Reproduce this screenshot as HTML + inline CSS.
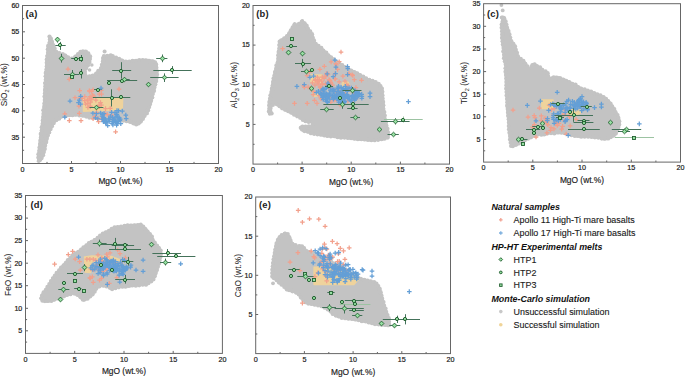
<!DOCTYPE html>
<html><head><meta charset="utf-8"><style>
html,body{margin:0;padding:0;background:#fff;}
svg{display:block;font-family:"Liberation Sans", sans-serif;}
</style></head><body>
<svg width="685" height="377" viewBox="0 0 685 377">
<path d="M49.8 36.0 L51.5 37.0 L52.0 38.5 L54.2 45.1 L56.5 51.0 L61.7 53.3 L65.4 54.0 L69.0 57.0 L72.0 57.5 L75.6 55.2 L78.3 52.4 L80.0 50.6 L86.0 50.8 L89.0 53.0 L91.3 57.0 L90.4 61.7 L88.6 66.3 L85.8 71.0 L86.7 75.6 L93.2 74.7 L96.9 71.0 L99.7 68.2 L101.5 63.6 L102.0 57.0 L103.4 55.2 L107.1 54.7 L112.3 54.2 L114.0 56.0 L117.5 57.3 L121.9 59.0 L125.4 60.8 L130.6 60.3 L136.8 59.4 L143.8 59.0 L149.0 59.4 L154.3 60.3 L156.9 62.5 L157.6 66.0 L157.8 75.0 L156.8 82.3 L155.0 89.7 L153.1 97.1 L151.3 104.5 L148.5 112.0 L144.8 117.5 L141.0 123.1 L137.3 125.4 L133.6 124.7 L129.0 122.6 L123.8 121.5 L110.0 120.0 L98.6 119.0 L89.5 118.5 L84.2 117.1 L77.5 115.8 L68.3 116.5 L63.0 117.1 L59.0 119.8 L55.0 122.4 L53.6 125.0 L50.2 131.8 L46.8 143.0 L44.5 154.4 L41.5 160.5 L38.5 162.0 L37.3 159.0 L38.9 143.0 L41.2 125.0 L43.4 102.5 L44.5 80.0 L45.8 61.8 L47.4 45.9 Z" fill="#c3c3c3" stroke="#c3c3c3" stroke-width="0.6" stroke-linejoin="round"/>
<g fill="#c3c3c3"><circle cx="49.5" cy="36.6" r="2.12"/><circle cx="50.7" cy="38.8" r="2.32"/><circle cx="52.1" cy="41.9" r="2.10"/><circle cx="53.2" cy="45.1" r="2.01"/><circle cx="54.4" cy="48.3" r="2.26"/><circle cx="56.3" cy="51.8" r="2.09"/><circle cx="59.4" cy="53.2" r="2.09"/><circle cx="62.9" cy="54.0" r="1.88"/><circle cx="65.5" cy="55.3" r="1.87"/><circle cx="68.0" cy="57.6" r="2.24"/><circle cx="71.8" cy="58.4" r="1.95"/><circle cx="75.2" cy="56.3" r="1.89"/><circle cx="78.2" cy="54.2" r="2.32"/><circle cx="80.5" cy="51.7" r="2.04"/><circle cx="82.9" cy="51.4" r="2.04"/><circle cx="85.7" cy="51.8" r="2.38"/><circle cx="88.3" cy="53.4" r="2.12"/><circle cx="90.2" cy="56.3" r="1.97"/><circle cx="90.0" cy="59.0" r="2.01"/><circle cx="89.2" cy="62.1" r="2.35"/><circle cx="88.0" cy="65.3" r="2.07"/><circle cx="86.0" cy="67.9" r="2.30"/><circle cx="85.0" cy="71.8" r="2.04"/><circle cx="85.4" cy="75.2" r="2.11"/><circle cx="89.5" cy="76.3" r="1.99"/><circle cx="92.9" cy="75.8" r="2.34"/><circle cx="96.1" cy="73.4" r="1.99"/><circle cx="98.2" cy="70.7" r="1.97"/><circle cx="100.9" cy="68.1" r="1.96"/><circle cx="101.7" cy="64.7" r="1.83"/><circle cx="103.1" cy="61.3" r="2.25"/><circle cx="103.0" cy="57.9" r="1.98"/><circle cx="103.8" cy="56.0" r="1.89"/><circle cx="107.2" cy="55.5" r="1.81"/><circle cx="110.6" cy="55.3" r="1.99"/><circle cx="112.7" cy="56.0" r="2.07"/><circle cx="116.1" cy="57.6" r="1.99"/><circle cx="119.3" cy="58.7" r="1.88"/><circle cx="122.0" cy="60.7" r="2.26"/><circle cx="125.8" cy="61.9" r="2.28"/><circle cx="129.2" cy="61.4" r="1.96"/><circle cx="132.6" cy="60.9" r="2.17"/><circle cx="136.0" cy="60.9" r="2.23"/><circle cx="139.3" cy="60.1" r="1.99"/><circle cx="142.7" cy="60.0" r="1.94"/><circle cx="145.9" cy="60.4" r="2.08"/><circle cx="149.1" cy="60.9" r="2.24"/><circle cx="152.5" cy="61.5" r="2.34"/><circle cx="155.2" cy="62.1" r="1.86"/><circle cx="156.0" cy="64.5" r="2.23"/><circle cx="156.3" cy="67.7" r="2.12"/><circle cx="157.2" cy="71.1" r="1.97"/><circle cx="156.9" cy="74.5" r="2.22"/><circle cx="156.7" cy="77.7" r="2.08"/><circle cx="156.0" cy="81.0" r="2.29"/><circle cx="155.0" cy="84.2" r="2.40"/><circle cx="154.2" cy="87.5" r="2.34"/><circle cx="154.0" cy="90.9" r="2.11"/><circle cx="152.7" cy="94.1" r="2.15"/><circle cx="152.4" cy="97.6" r="1.96"/><circle cx="150.9" cy="100.7" r="2.27"/><circle cx="150.2" cy="104.0" r="2.02"/><circle cx="149.1" cy="107.1" r="2.14"/><circle cx="147.8" cy="110.2" r="2.35"/><circle cx="147.0" cy="113.4" r="1.91"/><circle cx="144.6" cy="115.9" r="2.03"/><circle cx="142.7" cy="118.7" r="2.35"/><circle cx="140.8" cy="121.5" r="2.15"/><circle cx="138.5" cy="123.3" r="2.28"/><circle cx="136.2" cy="124.5" r="2.11"/><circle cx="133.3" cy="123.3" r="2.08"/><circle cx="130.2" cy="121.8" r="2.28"/><circle cx="126.6" cy="121.1" r="2.17"/><circle cx="123.2" cy="120.5" r="2.18"/><circle cx="119.9" cy="119.7" r="2.13"/><circle cx="116.5" cy="119.6" r="1.91"/><circle cx="113.1" cy="119.2" r="2.03"/><circle cx="109.7" cy="118.9" r="2.17"/><circle cx="106.3" cy="118.8" r="2.23"/><circle cx="102.9" cy="118.5" r="1.88"/><circle cx="99.5" cy="117.8" r="2.35"/><circle cx="96.1" cy="117.8" r="2.09"/><circle cx="92.7" cy="117.4" r="2.30"/><circle cx="89.4" cy="117.8" r="1.99"/><circle cx="86.2" cy="116.6" r="2.09"/><circle cx="82.9" cy="115.4" r="2.30"/><circle cx="79.5" cy="115.2" r="2.36"/><circle cx="75.8" cy="114.6" r="2.19"/><circle cx="72.5" cy="114.9" r="2.31"/><circle cx="69.1" cy="115.0" r="2.30"/><circle cx="65.7" cy="116.2" r="2.00"/><circle cx="61.9" cy="116.5" r="2.07"/><circle cx="59.1" cy="118.5" r="2.26"/><circle cx="56.1" cy="120.0" r="2.34"/><circle cx="53.5" cy="122.9" r="2.38"/><circle cx="52.2" cy="126.2" r="1.87"/><circle cx="50.5" cy="129.1" r="2.20"/><circle cx="49.4" cy="132.4" r="1.90"/><circle cx="48.1" cy="135.6" r="1.82"/><circle cx="46.6" cy="138.7" r="2.26"/><circle cx="46.0" cy="142.1" r="2.34"/><circle cx="45.2" cy="145.5" r="1.97"/><circle cx="44.8" cy="148.9" r="2.12"/><circle cx="43.8" cy="152.1" r="2.15"/><circle cx="43.1" cy="155.2" r="2.09"/><circle cx="41.4" cy="158.1" r="2.34"/><circle cx="39.7" cy="159.9" r="2.23"/><circle cx="39.1" cy="160.3" r="2.18"/><circle cx="38.3" cy="157.6" r="2.05"/><circle cx="38.5" cy="154.2" r="2.17"/><circle cx="39.3" cy="150.8" r="2.17"/><circle cx="39.3" cy="147.4" r="1.86"/><circle cx="40.1" cy="144.1" r="2.18"/><circle cx="40.6" cy="140.7" r="2.34"/><circle cx="41.1" cy="137.4" r="2.30"/><circle cx="40.7" cy="133.9" r="2.07"/><circle cx="41.7" cy="130.6" r="2.06"/><circle cx="41.7" cy="127.2" r="2.10"/><circle cx="42.6" cy="123.8" r="2.03"/><circle cx="42.9" cy="120.4" r="2.22"/><circle cx="43.2" cy="117.1" r="2.10"/><circle cx="43.8" cy="113.7" r="2.37"/><circle cx="43.1" cy="110.2" r="1.91"/><circle cx="44.5" cy="106.9" r="2.39"/><circle cx="44.6" cy="103.5" r="2.28"/><circle cx="44.9" cy="100.1" r="2.24"/><circle cx="44.4" cy="96.6" r="1.98"/><circle cx="45.1" cy="93.3" r="2.21"/><circle cx="45.2" cy="89.9" r="2.31"/><circle cx="45.6" cy="86.5" r="2.38"/><circle cx="44.8" cy="83.1" r="1.84"/><circle cx="45.5" cy="79.7" r="1.84"/><circle cx="45.6" cy="76.3" r="2.13"/><circle cx="46.0" cy="72.9" r="2.38"/><circle cx="46.7" cy="69.6" r="2.31"/><circle cx="47.1" cy="66.2" r="2.38"/><circle cx="46.9" cy="62.8" r="2.29"/><circle cx="46.7" cy="59.4" r="2.04"/><circle cx="46.9" cy="56.0" r="1.82"/><circle cx="48.2" cy="52.7" r="2.26"/><circle cx="47.7" cy="49.2" r="1.99"/><circle cx="48.2" cy="45.9" r="2.21"/><circle cx="49.3" cy="42.7" r="1.83"/><circle cx="49.9" cy="39.4" r="2.09"/></g>
<path d="M83.5 98.6 L122.6 98.6 L122.3 108.4 L116.5 110.0 L100.0 110.5 L83.5 111.2 Z" fill="#efd39c" stroke="#efd39c" stroke-width="1.5" stroke-linejoin="round"/>
<ellipse cx="86" cy="104" rx="3" ry="6" fill="#efd39c"/>
<g stroke="#f2a08c" stroke-width="1.25"><path d="M92.6 116.3h4.6M94.9 114.0v4.6"/><path d="M77.0 113.4h4.6M79.3 111.1v4.6"/><path d="M90.7 89.7h4.6M93.0 87.4v4.6"/><path d="M85.5 100.1h4.6M87.8 97.8v4.6"/><path d="M98.9 90.3h4.6M101.2 88.0v4.6"/><path d="M85.6 103.5h4.6M87.9 101.2v4.6"/><path d="M76.6 106.1h4.6M78.9 103.8v4.6"/><path d="M90.3 95.0h4.6M92.6 92.7v4.6"/><path d="M85.6 107.4h4.6M87.9 105.1v4.6"/><path d="M83.3 104.0h4.6M85.6 101.7v4.6"/><path d="M91.5 96.0h4.6M93.8 93.7v4.6"/><path d="M84.9 100.1h4.6M87.2 97.8v4.6"/><path d="M87.7 96.7h4.6M90.0 94.4v4.6"/><path d="M96.8 105.4h4.6M99.1 103.1v4.6"/><path d="M97.0 94.1h4.6M99.3 91.8v4.6"/><path d="M87.3 91.1h4.6M89.6 88.8v4.6"/><path d="M93.6 100.1h4.6M95.9 97.8v4.6"/><path d="M98.2 102.5h4.6M100.5 100.2v4.6"/><path d="M82.4 100.7h4.6M84.7 98.4v4.6"/><path d="M97.1 106.8h4.6M99.4 104.5v4.6"/><path d="M87.9 106.0h4.6M90.2 103.7v4.6"/><path d="M88.3 102.0h4.6M90.6 99.7v4.6"/><path d="M87.0 90.9h4.6M89.3 88.6v4.6"/><path d="M87.6 98.2h4.6M89.9 95.9v4.6"/><path d="M99.2 94.1h4.6M101.5 91.8v4.6"/><path d="M89.5 99.2h4.6M91.8 96.9v4.6"/><path d="M72.7 97.7h4.6M75.0 95.4v4.6"/><path d="M99.1 105.0h4.6M101.4 102.7v4.6"/><path d="M77.7 98.2h4.6M80.0 95.9v4.6"/><path d="M79.9 98.3h4.6M82.2 96.0v4.6"/><path d="M89.2 91.4h4.6M91.5 89.1v4.6"/><path d="M77.4 90.5h4.6M79.7 88.2v4.6"/><path d="M82.5 96.6h4.6M84.8 94.3v4.6"/><path d="M88.0 106.8h4.6M90.3 104.5v4.6"/><path d="M95.7 118.7h4.6M98.0 116.4v4.6"/><path d="M95.1 106.8h4.6M97.4 104.5v4.6"/><path d="M99.4 118.6h4.6M101.7 116.3v4.6"/><path d="M103.2 108.6h4.6M105.5 106.3v4.6"/><path d="M102.7 113.5h4.6M105.0 111.2v4.6"/><path d="M104.9 114.5h4.6M107.2 112.2v4.6"/><path d="M107.9 108.4h4.6M110.2 106.1v4.6"/><path d="M109.5 115.0h4.6M111.8 112.7v4.6"/><path d="M90.8 118.8h4.6M93.1 116.5v4.6"/><path d="M94.2 112.6h4.6M96.5 110.3v4.6"/></g>
<g stroke="#649fd6" stroke-width="1.25"><path d="M95.6 118.8h4.6M97.9 116.5v4.6"/><path d="M102.7 121.0h4.6M105.0 118.7v4.6"/><path d="M115.0 123.7h4.6M117.3 121.4v4.6"/><path d="M114.7 110.6h4.6M117.0 108.3v4.6"/><path d="M106.9 121.7h4.6M109.2 119.4v4.6"/><path d="M115.5 117.0h4.6M117.8 114.7v4.6"/><path d="M117.9 119.0h4.6M120.2 116.7v4.6"/><path d="M113.9 122.2h4.6M116.2 119.9v4.6"/><path d="M101.7 113.6h4.6M104.0 111.3v4.6"/><path d="M107.4 119.4h4.6M109.7 117.1v4.6"/><path d="M117.6 120.3h4.6M119.9 118.0v4.6"/><path d="M110.0 121.3h4.6M112.3 119.0v4.6"/><path d="M118.5 123.6h4.6M120.8 121.3v4.6"/><path d="M101.1 121.6h4.6M103.4 119.3v4.6"/><path d="M113.6 116.9h4.6M115.9 114.6v4.6"/><path d="M116.0 121.5h4.6M118.3 119.2v4.6"/><path d="M116.3 110.7h4.6M118.6 108.4v4.6"/><path d="M114.8 121.7h4.6M117.1 119.4v4.6"/><path d="M111.2 119.2h4.6M113.5 116.9v4.6"/><path d="M103.8 122.7h4.6M106.1 120.4v4.6"/><path d="M103.3 122.9h4.6M105.6 120.6v4.6"/><path d="M110.0 123.3h4.6M112.3 121.0v4.6"/><path d="M100.9 117.8h4.6M103.2 115.5v4.6"/><path d="M114.6 114.4h4.6M116.9 112.1v4.6"/><path d="M102.6 119.1h4.6M104.9 116.8v4.6"/><path d="M113.0 122.0h4.6M115.3 119.7v4.6"/><path d="M116.9 117.6h4.6M119.2 115.3v4.6"/><path d="M114.3 125.1h4.6M116.6 122.8v4.6"/><path d="M110.3 117.4h4.6M112.6 115.1v4.6"/><path d="M114.2 114.8h4.6M116.5 112.5v4.6"/><path d="M112.7 112.6h4.6M115.0 110.3v4.6"/><path d="M116.6 119.0h4.6M118.9 116.7v4.6"/><path d="M102.5 121.5h4.6M104.8 119.2v4.6"/><path d="M123.5 115.0h4.6M125.8 112.7v4.6"/><path d="M120.0 111.1h4.6M122.3 108.8v4.6"/><path d="M123.9 118.6h4.6M126.2 116.3v4.6"/><path d="M108.1 116.2h4.6M110.4 113.9v4.6"/><path d="M102.1 120.7h4.6M104.4 118.4v4.6"/><path d="M110.6 124.9h4.6M112.9 122.6v4.6"/><path d="M106.3 118.9h4.6M108.6 116.6v4.6"/><path d="M111.7 120.8h4.6M114.0 118.5v4.6"/><path d="M103.8 122.4h4.6M106.1 120.1v4.6"/><path d="M105.4 125.5h4.6M107.7 123.2v4.6"/><path d="M111.9 119.4h4.6M114.2 117.1v4.6"/><path d="M111.0 121.6h4.6M113.3 119.3v4.6"/><path d="M99.8 116.0h4.6M102.1 113.7v4.6"/><path d="M103.2 120.6h4.6M105.5 118.3v4.6"/><path d="M100.3 119.6h4.6M102.6 117.3v4.6"/><path d="M101.6 117.5h4.6M103.9 115.2v4.6"/><path d="M109.3 112.3h4.6M111.6 110.0v4.6"/><path d="M101.2 119.2h4.6M103.5 116.9v4.6"/><path d="M100.2 114.4h4.6M102.5 112.1v4.6"/><path d="M98.3 113.0h4.6M100.6 110.7v4.6"/><path d="M101.8 118.9h4.6M104.1 116.6v4.6"/><path d="M94.1 113.7h4.6M96.4 111.4v4.6"/><path d="M90.6 113.2h4.6M92.9 110.9v4.6"/><path d="M93.1 117.8h4.6M95.4 115.5v4.6"/><path d="M76.2 102.7h4.6M78.5 100.4v4.6"/><path d="M78.4 96.3h4.6M80.7 94.0v4.6"/><path d="M77.0 100.2h4.6M79.3 97.9v4.6"/><path d="M78.2 104.1h4.6M80.5 101.8v4.6"/></g>
<line x1="57.5" y1="37.5" x2="57.5" y2="42.5" stroke="#44725a" stroke-width="1"/>
<line x1="55.3" y1="45.5" x2="65.7" y2="45.5" stroke="#44725a" stroke-width="1"/>
<line x1="60.5" y1="41.9" x2="60.5" y2="49.9" stroke="#44725a" stroke-width="1"/>
<line x1="61.5" y1="53.8" x2="61.5" y2="62.6" stroke="#44725a" stroke-width="1"/>
<line x1="71.2" y1="58.5" x2="79.0" y2="58.5" stroke="#44725a" stroke-width="1"/>
<line x1="81.5" y1="55.0" x2="81.5" y2="62.0" stroke="#44725a" stroke-width="1"/>
<line x1="64.0" y1="74.5" x2="79.2" y2="74.5" stroke="#44725a" stroke-width="1"/>
<line x1="72.5" y1="70.0" x2="72.5" y2="79.0" stroke="#44725a" stroke-width="1"/>
<line x1="81.5" y1="69.0" x2="81.5" y2="78.5" stroke="#44725a" stroke-width="1"/>
<line x1="112.2" y1="70.5" x2="131.2" y2="70.5" stroke="#44725a" stroke-width="1"/>
<line x1="121.5" y1="62.2" x2="121.5" y2="78.6" stroke="#44725a" stroke-width="1"/>
<line x1="107.0" y1="80.5" x2="137.2" y2="80.5" stroke="#44725a" stroke-width="1"/>
<line x1="121.7" y1="79.5" x2="129.7" y2="79.5" stroke="#44725a" stroke-width="1"/>
<line x1="156.2" y1="58.5" x2="167.4" y2="58.5" stroke="#44725a" stroke-width="1"/>
<line x1="162.5" y1="54.5" x2="162.5" y2="62.2" stroke="#44725a" stroke-width="1"/>
<line x1="153.3" y1="70.5" x2="191.7" y2="70.5" stroke="#44725a" stroke-width="1"/>
<line x1="172.5" y1="66.1" x2="172.5" y2="74.0" stroke="#44725a" stroke-width="1"/>
<line x1="150.2" y1="77.5" x2="178.6" y2="77.5" stroke="#44725a" stroke-width="1"/>
<line x1="164.5" y1="73.4" x2="164.5" y2="82.0" stroke="#44725a" stroke-width="1"/>
<line x1="94.1" y1="89.5" x2="102.1" y2="89.5" stroke="#44725a" stroke-width="1"/>
<line x1="92.8" y1="97.5" x2="125.0" y2="97.5" stroke="#44725a" stroke-width="1"/>
<line x1="111.5" y1="89.3" x2="111.5" y2="106.5" stroke="#44725a" stroke-width="1"/>
<line x1="89.5" y1="107.5" x2="103.4" y2="107.5" stroke="#44725a" stroke-width="1"/>
<line x1="115.7" y1="97.5" x2="130.3" y2="97.5" stroke="#44725a" stroke-width="1"/>
<path d="M57.5 37.1L59.9 39.5L57.5 41.9L55.1 39.5Z" fill="#96e0a2" stroke="#225f30" stroke-width="0.9"/>
<circle cx="60.0" cy="45.0" r="1.6" fill="#96e0a2" stroke="#225f30" stroke-width="1.0"/>
<path d="M61.5 56.1L63.9 58.5L61.5 60.9L59.1 58.5Z" fill="#96e0a2" stroke="#225f30" stroke-width="0.9"/>
<circle cx="76.0" cy="59.0" r="1.6" fill="#96e0a2" stroke="#225f30" stroke-width="1.0"/>
<rect x="79.5" y="57.5" width="3.0" height="3.0" fill="#96e0a2" stroke="#225f30" stroke-width="0.9"/>
<path d="M72.5 72.2L74.8 74.5L72.5 76.8L70.2 74.5Z" fill="#96e0a2" stroke="#225f30" stroke-width="0.9"/>
<rect x="70.5" y="75.5" width="3.0" height="3.0" fill="#96e0a2" stroke="#225f30" stroke-width="0.9"/>
<circle cx="81.0" cy="73.0" r="1.6" fill="#96e0a2" stroke="#225f30" stroke-width="1.0"/>
<circle cx="121.0" cy="71.0" r="1.6" fill="#96e0a2" stroke="#225f30" stroke-width="1.0"/>
<circle cx="122.0" cy="81.0" r="1.6" fill="#96e0a2" stroke="#225f30" stroke-width="1.0"/>
<path d="M124.5 77.2L126.8 79.5L124.5 81.8L122.2 79.5Z" fill="#96e0a2" stroke="#225f30" stroke-width="0.9"/>
<circle cx="109.0" cy="83.0" r="1.6" fill="#96e0a2" stroke="#225f30" stroke-width="1.0"/>
<path d="M148.5 82.2L150.8 84.5L148.5 86.8L146.2 84.5Z" fill="#96e0a2" stroke="#225f30" stroke-width="0.9"/>
<path d="M162.5 56.1L164.8 58.5L162.5 60.9L160.2 58.5Z" fill="#96e0a2" stroke="#225f30" stroke-width="0.9"/>
<circle cx="172.0" cy="70.0" r="1.6" fill="#96e0a2" stroke="#225f30" stroke-width="1.0"/>
<path d="M164.5 75.2L166.8 77.5L164.5 79.8L162.2 77.5Z" fill="#96e0a2" stroke="#225f30" stroke-width="0.9"/>
<circle cx="98.0" cy="90.0" r="1.6" fill="#96e0a2" stroke="#225f30" stroke-width="1.0"/>
<circle cx="112.0" cy="98.0" r="1.6" fill="#96e0a2" stroke="#225f30" stroke-width="1.0"/>
<path d="M96.5 105.2L98.8 107.5L96.5 109.8L94.2 107.5Z" fill="#96e0a2" stroke="#225f30" stroke-width="0.9"/>
<circle cx="121.0" cy="97.0" r="1.6" fill="#96e0a2" stroke="#225f30" stroke-width="1.0"/>
<path d="M302.8 20.2 L305.6 22.4 L307.5 25.2 L308.5 27.5 L310.0 29.7 L312.9 34.0 L314.3 38.3 L315.8 42.6 L320.1 46.1 L322.9 48.3 L325.8 51.2 L328.7 54.0 L332.2 56.9 L335.8 59.7 L340.1 62.6 L344.4 65.5 L348.7 68.3 L356.4 71.6 L362.0 75.0 L367.0 77.9 L375.5 81.1 L380.4 84.0 L383.0 88.0 L384.0 100.0 L384.5 107.5 L386.1 120.2 L388.2 128.7 L389.3 135.0 L388.2 138.5 L381.8 140.4 L371.2 141.0 L360.6 140.4 L350.0 139.4 L345.0 138.8 L330.0 137.0 L325.5 136.8 L310.7 134.0 L302.3 131.2 L299.5 128.4 L299.8 126.6 L302.2 125.6 L309.3 125.4 L313.5 124.3 L311.7 122.9 L308.2 122.9 L304.6 122.3 L302.2 120.8 L299.8 118.6 L297.7 117.6 L292.1 114.5 L282.8 109.9 L277.3 106.2 L274.5 104.3 L271.7 107.1 L271.7 112.7 L269.8 114.5 L268.0 111.7 L268.4 103.4 L269.8 94.1 L272.0 82.0 L274.0 72.0 L276.8 61.4 L278.3 46.5 L278.8 40.5 L281.9 38.6 L284.5 37.0 L286.5 35.0 L288.3 32.3 L289.9 29.8 L292.5 25.8 L293.8 23.3 L294.5 22.4 L296.3 24.3 L301.0 21.5 Z" fill="#c3c3c3" stroke="#c3c3c3" stroke-width="0.6" stroke-linejoin="round"/>
<g fill="#c3c3c3"><circle cx="302.3" cy="20.9" r="1.91"/><circle cx="304.7" cy="23.3" r="1.98"/><circle cx="306.4" cy="25.8" r="2.37"/><circle cx="307.8" cy="28.9" r="2.29"/><circle cx="310.2" cy="31.4" r="2.18"/><circle cx="312.0" cy="34.2" r="2.17"/><circle cx="312.8" cy="37.3" r="1.85"/><circle cx="313.8" cy="40.6" r="2.29"/><circle cx="315.8" cy="43.9" r="2.03"/><circle cx="318.5" cy="45.9" r="2.15"/><circle cx="321.3" cy="47.9" r="2.12"/><circle cx="323.3" cy="50.6" r="2.12"/><circle cx="326.0" cy="52.8" r="2.40"/><circle cx="328.2" cy="55.5" r="2.37"/><circle cx="330.9" cy="57.6" r="2.29"/><circle cx="333.8" cy="59.5" r="2.36"/><circle cx="336.5" cy="61.7" r="2.32"/><circle cx="339.4" cy="63.4" r="1.97"/><circle cx="342.3" cy="65.2" r="2.09"/><circle cx="344.9" cy="67.5" r="2.38"/><circle cx="348.1" cy="68.8" r="2.22"/><circle cx="351.3" cy="70.3" r="1.88"/><circle cx="354.2" cy="72.1" r="2.22"/><circle cx="357.1" cy="73.6" r="2.38"/><circle cx="360.2" cy="75.0" r="1.95"/><circle cx="363.1" cy="76.9" r="2.31"/><circle cx="366.1" cy="78.4" r="2.10"/><circle cx="369.4" cy="79.8" r="1.96"/><circle cx="372.6" cy="80.7" r="1.95"/><circle cx="375.6" cy="82.0" r="2.09"/><circle cx="378.4" cy="84.1" r="2.37"/><circle cx="380.5" cy="85.9" r="2.00"/><circle cx="382.1" cy="88.4" r="1.85"/><circle cx="382.3" cy="91.8" r="2.16"/><circle cx="382.6" cy="95.2" r="1.94"/><circle cx="382.5" cy="98.6" r="2.14"/><circle cx="383.1" cy="101.9" r="2.13"/><circle cx="383.1" cy="105.3" r="2.35"/><circle cx="383.4" cy="108.8" r="2.01"/><circle cx="384.3" cy="112.1" r="2.11"/><circle cx="384.8" cy="115.5" r="2.08"/><circle cx="384.5" cy="119.0" r="2.30"/><circle cx="385.8" cy="122.3" r="2.19"/><circle cx="386.3" cy="125.7" r="2.17"/><circle cx="387.6" cy="128.8" r="1.96"/><circle cx="388.1" cy="132.2" r="1.98"/><circle cx="388.2" cy="135.1" r="1.90"/><circle cx="387.8" cy="137.6" r="2.05"/><circle cx="384.5" cy="138.4" r="2.27"/><circle cx="381.5" cy="138.9" r="2.28"/><circle cx="378.1" cy="140.0" r="1.91"/><circle cx="374.7" cy="140.4" r="1.85"/><circle cx="371.3" cy="140.0" r="2.35"/><circle cx="368.0" cy="139.8" r="2.27"/><circle cx="364.6" cy="139.3" r="2.29"/><circle cx="361.3" cy="138.9" r="2.36"/><circle cx="357.9" cy="139.1" r="2.17"/><circle cx="354.5" cy="138.4" r="2.32"/><circle cx="351.1" cy="138.2" r="2.01"/><circle cx="347.7" cy="138.2" r="1.83"/><circle cx="344.4" cy="137.6" r="2.07"/><circle cx="341.0" cy="137.5" r="2.22"/><circle cx="337.6" cy="136.9" r="2.37"/><circle cx="334.3" cy="135.9" r="2.39"/><circle cx="330.8" cy="136.5" r="1.99"/><circle cx="327.4" cy="136.2" r="1.92"/><circle cx="324.2" cy="135.4" r="2.02"/><circle cx="320.9" cy="134.5" r="2.18"/><circle cx="317.5" cy="134.5" r="1.90"/><circle cx="314.1" cy="134.1" r="1.94"/><circle cx="310.8" cy="133.5" r="1.86"/><circle cx="307.8" cy="131.7" r="2.05"/><circle cx="304.4" cy="131.1" r="2.15"/><circle cx="302.2" cy="129.3" r="2.39"/><circle cx="300.6" cy="127.7" r="1.90"/><circle cx="302.5" cy="126.8" r="2.21"/><circle cx="305.5" cy="126.7" r="2.17"/><circle cx="308.8" cy="126.1" r="1.94"/><circle cx="312.4" cy="125.5" r="1.96"/><circle cx="312.6" cy="122.2" r="2.27"/><circle cx="308.6" cy="122.0" r="1.89"/><circle cx="305.4" cy="121.5" r="1.82"/><circle cx="303.0" cy="119.7" r="2.33"/><circle cx="300.1" cy="117.9" r="1.92"/><circle cx="297.0" cy="116.6" r="1.81"/><circle cx="294.2" cy="114.6" r="2.23"/><circle cx="291.3" cy="112.7" r="2.13"/><circle cx="288.2" cy="111.3" r="2.03"/><circle cx="285.1" cy="109.9" r="1.84"/><circle cx="282.1" cy="108.4" r="1.85"/><circle cx="279.6" cy="106.1" r="2.25"/><circle cx="276.8" cy="104.2" r="2.14"/><circle cx="272.9" cy="104.9" r="2.08"/><circle cx="270.3" cy="108.1" r="2.35"/><circle cx="270.1" cy="111.5" r="2.34"/><circle cx="269.7" cy="113.8" r="1.89"/><circle cx="268.9" cy="111.5" r="2.10"/><circle cx="269.5" cy="108.7" r="2.27"/><circle cx="269.3" cy="105.3" r="2.19"/><circle cx="269.6" cy="102.0" r="2.36"/><circle cx="270.3" cy="98.7" r="2.40"/><circle cx="270.4" cy="95.3" r="2.04"/><circle cx="271.3" cy="92.0" r="1.93"/><circle cx="272.2" cy="88.7" r="2.39"/><circle cx="272.8" cy="85.3" r="2.19"/><circle cx="273.1" cy="82.0" r="2.16"/><circle cx="273.7" cy="78.6" r="2.27"/><circle cx="274.4" cy="75.3" r="1.98"/><circle cx="274.7" cy="71.9" r="1.84"/><circle cx="276.3" cy="68.8" r="2.22"/><circle cx="276.4" cy="65.4" r="2.07"/><circle cx="277.7" cy="62.2" r="2.06"/><circle cx="278.4" cy="58.7" r="2.25"/><circle cx="278.3" cy="55.2" r="2.17"/><circle cx="278.9" cy="51.9" r="2.38"/><circle cx="279.2" cy="48.5" r="1.97"/><circle cx="279.3" cy="45.1" r="2.16"/><circle cx="279.6" cy="41.7" r="2.08"/><circle cx="281.5" cy="40.5" r="2.30"/><circle cx="284.4" cy="38.7" r="2.38"/><circle cx="287.0" cy="36.1" r="2.07"/><circle cx="289.3" cy="33.3" r="2.12"/><circle cx="290.9" cy="30.3" r="2.07"/><circle cx="292.6" cy="27.3" r="1.99"/><circle cx="294.6" cy="24.4" r="1.99"/><circle cx="294.8" cy="24.4" r="2.26"/><circle cx="298.9" cy="23.9" r="2.07"/><circle cx="301.6" cy="21.7" r="1.94"/></g>
<path d="M311.0 75.0 L322.0 75.0 L322.0 82.5 L311.0 82.5 Z" fill="#efd39c" stroke="#efd39c" stroke-width="1.5" stroke-linejoin="round"/>
<ellipse cx="345.5" cy="84" rx="4" ry="3" fill="#efd39c"/>
<ellipse cx="315.5" cy="94" rx="3.5" ry="3" fill="#efd39c"/>
<g stroke="#f2a08c" stroke-width="1.25"><path d="M312.2 100.3h4.6M314.5 98.0v4.6"/><path d="M326.6 87.1h4.6M328.9 84.8v4.6"/><path d="M305.8 87.0h4.6M308.1 84.7v4.6"/><path d="M327.3 80.4h4.6M329.6 78.1v4.6"/><path d="M319.8 84.1h4.6M322.1 81.8v4.6"/><path d="M325.7 74.0h4.6M328.0 71.7v4.6"/><path d="M334.0 64.8h4.6M336.3 62.5v4.6"/><path d="M344.4 84.5h4.6M346.7 82.2v4.6"/><path d="M328.1 87.2h4.6M330.4 84.9v4.6"/><path d="M328.8 61.9h4.6M331.1 59.6v4.6"/><path d="M301.5 85.9h4.6M303.8 83.6v4.6"/><path d="M315.0 81.2h4.6M317.3 78.9v4.6"/><path d="M304.8 75.5h4.6M307.1 73.2v4.6"/><path d="M327.6 97.1h4.6M329.9 94.8v4.6"/><path d="M342.9 93.7h4.6M345.2 91.4v4.6"/><path d="M324.1 73.5h4.6M326.4 71.2v4.6"/><path d="M354.4 97.7h4.6M356.7 95.4v4.6"/><path d="M333.5 63.6h4.6M335.8 61.3v4.6"/><path d="M320.3 84.3h4.6M322.6 82.0v4.6"/><path d="M328.0 88.2h4.6M330.3 85.9v4.6"/><path d="M349.8 74.7h4.6M352.1 72.4v4.6"/><path d="M315.5 82.1h4.6M317.8 79.8v4.6"/><path d="M328.5 82.5h4.6M330.8 80.2v4.6"/><path d="M346.9 89.1h4.6M349.2 86.8v4.6"/><path d="M328.0 81.0h4.6M330.3 78.7v4.6"/><path d="M326.6 82.2h4.6M328.9 79.9v4.6"/><path d="M352.0 79.7h4.6M354.3 77.4v4.6"/><path d="M332.6 73.8h4.6M334.9 71.5v4.6"/><path d="M353.6 87.6h4.6M355.9 85.3v4.6"/><path d="M324.2 74.9h4.6M326.5 72.6v4.6"/><path d="M337.8 104.9h4.6M340.1 102.6v4.6"/><path d="M318.6 98.8h4.6M320.9 96.5v4.6"/><path d="M346.7 73.5h4.6M349.0 71.2v4.6"/><path d="M350.9 99.2h4.6M353.2 96.9v4.6"/><path d="M359.2 80.3h4.6M361.5 78.0v4.6"/><path d="M326.7 79.5h4.6M329.0 77.2v4.6"/><path d="M351.7 93.9h4.6M354.0 91.6v4.6"/><path d="M352.5 98.7h4.6M354.8 96.4v4.6"/><path d="M332.6 95.9h4.6M334.9 93.6v4.6"/><path d="M333.8 100.0h4.6M336.1 97.7v4.6"/><path d="M323.4 76.2h4.6M325.7 73.9v4.6"/><path d="M312.6 85.1h4.6M314.9 82.8v4.6"/><path d="M326.8 85.1h4.6M329.1 82.8v4.6"/><path d="M350.4 75.5h4.6M352.7 73.2v4.6"/><path d="M339.9 98.4h4.6M342.2 96.1v4.6"/><path d="M328.6 102.2h4.6M330.9 99.9v4.6"/><path d="M316.8 95.7h4.6M319.1 93.4v4.6"/><path d="M302.2 87.3h4.6M304.5 85.0v4.6"/><path d="M315.8 83.8h4.6M318.1 81.5v4.6"/><path d="M332.9 78.9h4.6M335.2 76.6v4.6"/><path d="M335.3 92.6h4.6M337.6 90.3v4.6"/><path d="M310.1 82.8h4.6M312.4 80.5v4.6"/><path d="M330.3 85.1h4.6M332.6 82.8v4.6"/><path d="M324.2 84.9h4.6M326.5 82.6v4.6"/><path d="M332.8 78.9h4.6M335.1 76.6v4.6"/><path d="M320.0 77.1h4.6M322.3 74.8v4.6"/><path d="M335.3 69.4h4.6M337.6 67.1v4.6"/><path d="M319.8 89.6h4.6M322.1 87.3v4.6"/><path d="M342.2 96.7h4.6M344.5 94.4v4.6"/><path d="M331.8 100.3h4.6M334.1 98.0v4.6"/><path d="M342.7 81.2h4.6M345.0 78.9v4.6"/><path d="M317.6 69.3h4.6M319.9 67.0v4.6"/><path d="M345.7 85.5h4.6M348.0 83.2v4.6"/><path d="M345.6 101.0h4.6M347.9 98.7v4.6"/><path d="M322.0 66.3h4.6M324.3 64.0v4.6"/><path d="M328.7 83.8h4.6M331.0 81.5v4.6"/><path d="M343.9 89.0h4.6M346.2 86.7v4.6"/><path d="M336.8 81.8h4.6M339.1 79.5v4.6"/><path d="M308.4 88.4h4.6M310.7 86.1v4.6"/><path d="M336.9 61.7h4.6M339.2 59.4v4.6"/><path d="M340.6 76.2h4.6M342.9 73.9v4.6"/><path d="M331.8 89.9h4.6M334.1 87.6v4.6"/><path d="M337.4 91.6h4.6M339.7 89.3v4.6"/><path d="M336.7 94.7h4.6M339.0 92.4v4.6"/><path d="M310.9 94.5h4.6M313.2 92.2v4.6"/><path d="M315.0 77.2h4.6M317.3 74.9v4.6"/><path d="M323.3 83.5h4.6M325.6 81.2v4.6"/><path d="M309.9 70.0h4.6M312.2 67.7v4.6"/><path d="M307.1 72.2h4.6M309.4 69.9v4.6"/><path d="M325.0 85.9h4.6M327.3 83.6v4.6"/><path d="M316.9 79.5h4.6M319.2 77.2v4.6"/><path d="M318.2 87.5h4.6M320.5 85.2v4.6"/><path d="M319.3 81.1h4.6M321.6 78.8v4.6"/><path d="M311.5 91.7h4.6M313.8 89.4v4.6"/><path d="M317.7 86.9h4.6M320.0 84.6v4.6"/><path d="M321.8 78.4h4.6M324.1 76.1v4.6"/><path d="M313.1 80.4h4.6M315.4 78.1v4.6"/><path d="M317.0 80.4h4.6M319.3 78.1v4.6"/><path d="M312.9 79.5h4.6M315.2 77.2v4.6"/></g>
<g stroke="#649fd6" stroke-width="1.25"><path d="M323.1 96.5h4.6M325.4 94.2v4.6"/><path d="M324.7 86.8h4.6M327.0 84.5v4.6"/><path d="M341.2 98.0h4.6M343.5 95.7v4.6"/><path d="M330.1 96.1h4.6M332.4 93.8v4.6"/><path d="M324.4 94.2h4.6M326.7 91.9v4.6"/><path d="M343.2 89.5h4.6M345.5 87.2v4.6"/><path d="M341.5 102.4h4.6M343.8 100.1v4.6"/><path d="M335.7 88.2h4.6M338.0 85.9v4.6"/><path d="M352.7 90.5h4.6M355.0 88.2v4.6"/><path d="M325.4 102.3h4.6M327.7 100.0v4.6"/><path d="M340.4 95.8h4.6M342.7 93.5v4.6"/><path d="M321.6 89.5h4.6M323.9 87.2v4.6"/><path d="M325.3 86.0h4.6M327.6 83.7v4.6"/><path d="M330.0 89.7h4.6M332.3 87.4v4.6"/><path d="M353.1 91.9h4.6M355.4 89.6v4.6"/><path d="M331.1 89.7h4.6M333.4 87.4v4.6"/><path d="M338.3 102.5h4.6M340.6 100.2v4.6"/><path d="M321.4 89.8h4.6M323.7 87.5v4.6"/><path d="M350.1 95.4h4.6M352.4 93.1v4.6"/><path d="M332.6 89.9h4.6M334.9 87.6v4.6"/><path d="M314.0 92.5h4.6M316.3 90.2v4.6"/><path d="M320.6 88.8h4.6M322.9 86.5v4.6"/><path d="M336.5 102.0h4.6M338.8 99.7v4.6"/><path d="M355.6 96.3h4.6M357.9 94.0v4.6"/><path d="M337.0 98.1h4.6M339.3 95.8v4.6"/><path d="M342.6 101.7h4.6M344.9 99.4v4.6"/><path d="M354.8 92.1h4.6M357.1 89.8v4.6"/><path d="M342.7 97.6h4.6M345.0 95.3v4.6"/><path d="M338.2 100.0h4.6M340.5 97.7v4.6"/><path d="M336.2 100.4h4.6M338.5 98.1v4.6"/><path d="M339.8 101.1h4.6M342.1 98.8v4.6"/><path d="M319.8 90.1h4.6M322.1 87.8v4.6"/><path d="M334.4 94.0h4.6M336.7 91.7v4.6"/><path d="M334.7 97.4h4.6M337.0 95.1v4.6"/><path d="M335.7 88.2h4.6M338.0 85.9v4.6"/><path d="M331.0 97.8h4.6M333.3 95.5v4.6"/><path d="M330.7 95.3h4.6M333.0 93.0v4.6"/><path d="M354.5 93.3h4.6M356.8 91.0v4.6"/><path d="M338.7 92.3h4.6M341.0 90.0v4.6"/><path d="M334.3 96.4h4.6M336.6 94.1v4.6"/><path d="M328.0 90.1h4.6M330.3 87.8v4.6"/><path d="M321.9 93.4h4.6M324.2 91.1v4.6"/><path d="M341.6 94.3h4.6M343.9 92.0v4.6"/><path d="M344.4 95.9h4.6M346.7 93.6v4.6"/><path d="M343.0 86.3h4.6M345.3 84.0v4.6"/><path d="M341.3 94.4h4.6M343.6 92.1v4.6"/><path d="M331.1 99.1h4.6M333.4 96.8v4.6"/><path d="M342.4 101.7h4.6M344.7 99.4v4.6"/><path d="M340.6 89.9h4.6M342.9 87.6v4.6"/><path d="M320.7 96.0h4.6M323.0 93.7v4.6"/><path d="M339.5 95.9h4.6M341.8 93.6v4.6"/><path d="M351.8 96.4h4.6M354.1 94.1v4.6"/><path d="M331.5 91.7h4.6M333.8 89.4v4.6"/><path d="M340.2 92.9h4.6M342.5 90.6v4.6"/><path d="M336.2 86.2h4.6M338.5 83.9v4.6"/><path d="M349.9 96.7h4.6M352.2 94.4v4.6"/><path d="M337.6 94.2h4.6M339.9 91.9v4.6"/><path d="M348.5 101.2h4.6M350.8 98.9v4.6"/><path d="M332.5 97.9h4.6M334.8 95.6v4.6"/><path d="M322.5 95.2h4.6M324.8 92.9v4.6"/><path d="M338.9 87.5h4.6M341.2 85.2v4.6"/><path d="M347.3 99.0h4.6M349.6 96.7v4.6"/><path d="M344.1 94.7h4.6M346.4 92.4v4.6"/><path d="M321.0 94.0h4.6M323.3 91.7v4.6"/><path d="M330.9 91.8h4.6M333.2 89.5v4.6"/><path d="M344.0 96.6h4.6M346.3 94.3v4.6"/><path d="M354.8 96.9h4.6M357.1 94.6v4.6"/><path d="M336.5 91.2h4.6M338.8 88.9v4.6"/><path d="M335.6 91.7h4.6M337.9 89.4v4.6"/><path d="M327.2 94.1h4.6M329.5 91.8v4.6"/><path d="M346.6 96.2h4.6M348.9 93.9v4.6"/><path d="M334.9 98.6h4.6M337.2 96.3v4.6"/><path d="M349.4 100.1h4.6M351.7 97.8v4.6"/><path d="M327.2 93.0h4.6M329.5 90.7v4.6"/><path d="M344.6 88.9h4.6M346.9 86.6v4.6"/><path d="M340.6 88.7h4.6M342.9 86.4v4.6"/><path d="M342.2 101.2h4.6M344.5 98.9v4.6"/><path d="M337.0 96.1h4.6M339.3 93.8v4.6"/><path d="M339.6 95.5h4.6M341.9 93.2v4.6"/><path d="M344.2 96.0h4.6M346.5 93.7v4.6"/><path d="M324.9 101.5h4.6M327.2 99.2v4.6"/><path d="M323.6 93.4h4.6M325.9 91.1v4.6"/><path d="M324.9 97.0h4.6M327.2 94.7v4.6"/><path d="M327.5 99.1h4.6M329.8 96.8v4.6"/><path d="M323.2 99.4h4.6M325.5 97.1v4.6"/><path d="M331.2 97.4h4.6M333.5 95.1v4.6"/><path d="M319.2 94.0h4.6M321.5 91.7v4.6"/><path d="M332.5 95.2h4.6M334.8 92.9v4.6"/><path d="M324.1 88.0h4.6M326.4 85.7v4.6"/><path d="M324.3 101.3h4.6M326.6 99.0v4.6"/><path d="M319.7 95.1h4.6M322.0 92.8v4.6"/><path d="M317.9 93.2h4.6M320.2 90.9v4.6"/><path d="M318.5 94.3h4.6M320.8 92.0v4.6"/><path d="M325.3 98.3h4.6M327.6 96.0v4.6"/><path d="M321.4 97.9h4.6M323.7 95.6v4.6"/><path d="M326.4 95.8h4.6M328.7 93.5v4.6"/><path d="M320.2 97.4h4.6M322.5 95.1v4.6"/><path d="M327.4 95.1h4.6M329.7 92.8v4.6"/><path d="M316.1 91.2h4.6M318.4 88.9v4.6"/><path d="M321.0 99.5h4.6M323.3 97.2v4.6"/><path d="M359.6 96.3h4.6M361.9 94.0v4.6"/><path d="M345.1 91.4h4.6M347.4 89.1v4.6"/><path d="M356.3 95.1h4.6M358.6 92.8v4.6"/><path d="M356.8 93.7h4.6M359.1 91.4v4.6"/><path d="M356.7 93.4h4.6M359.0 91.1v4.6"/><path d="M353.3 95.9h4.6M355.6 93.6v4.6"/><path d="M352.4 100.2h4.6M354.7 97.9v4.6"/><path d="M359.5 98.3h4.6M361.8 96.0v4.6"/><path d="M345.8 98.6h4.6M348.1 96.3v4.6"/><path d="M338.4 95.6h4.6M340.7 93.3v4.6"/><path d="M353.5 98.8h4.6M355.8 96.5v4.6"/><path d="M346.7 87.8h4.6M349.0 85.5v4.6"/><path d="M349.1 88.0h4.6M351.4 85.7v4.6"/><path d="M350.9 97.7h4.6M353.2 95.4v4.6"/><path d="M351.9 98.0h4.6M354.2 95.7v4.6"/><path d="M359.4 94.4h4.6M361.7 92.1v4.6"/><path d="M346.1 97.1h4.6M348.4 94.8v4.6"/><path d="M351.8 95.1h4.6M354.1 92.8v4.6"/><path d="M346.1 96.0h4.6M348.4 93.7v4.6"/><path d="M344.5 95.7h4.6M346.8 93.4v4.6"/><path d="M333.2 73.6h4.6M335.5 71.3v4.6"/><path d="M307.6 77.3h4.6M309.9 75.0v4.6"/><path d="M345.5 68.7h4.6M347.8 66.4v4.6"/><path d="M311.3 76.0h4.6M313.6 73.7v4.6"/><path d="M324.9 73.9h4.6M327.2 71.6v4.6"/><path d="M328.6 86.7h4.6M330.9 84.4v4.6"/><path d="M345.3 74.5h4.6M347.6 72.2v4.6"/><path d="M333.6 67.1h4.6M335.9 64.8v4.6"/><path d="M330.9 76.7h4.6M333.2 74.4v4.6"/><path d="M325.7 83.0h4.6M328.0 80.7v4.6"/></g>
<line x1="286.3" y1="46.5" x2="297.0" y2="46.5" stroke="#44725a" stroke-width="1"/>
<line x1="302.5" y1="50.9" x2="302.5" y2="56.2" stroke="#44725a" stroke-width="1"/>
<line x1="295.0" y1="63.5" x2="310.9" y2="63.5" stroke="#44725a" stroke-width="1"/>
<line x1="302.5" y1="58.9" x2="302.5" y2="67.5" stroke="#44725a" stroke-width="1"/>
<line x1="301.0" y1="71.5" x2="312.2" y2="71.5" stroke="#44725a" stroke-width="1"/>
<line x1="325.0" y1="86.5" x2="333.0" y2="86.5" stroke="#44725a" stroke-width="1"/>
<line x1="342.5" y1="90.5" x2="361.5" y2="90.5" stroke="#44725a" stroke-width="1"/>
<line x1="352.5" y1="87.0" x2="352.5" y2="93.0" stroke="#44725a" stroke-width="1"/>
<line x1="323.4" y1="104.5" x2="368.7" y2="104.5" stroke="#44725a" stroke-width="1"/>
<line x1="342.5" y1="100.8" x2="342.5" y2="108.8" stroke="#44725a" stroke-width="1"/>
<line x1="347.2" y1="108.5" x2="357.6" y2="108.5" stroke="#44725a" stroke-width="1"/>
<line x1="320.2" y1="109.5" x2="333.7" y2="109.5" stroke="#44725a" stroke-width="1"/>
<line x1="350.4" y1="117.5" x2="360.0" y2="117.5" stroke="#44725a" stroke-width="1"/>
<line x1="380.9" y1="121.5" x2="409.6" y2="121.5" stroke="#44725a" stroke-width="1"/>
<line x1="395.5" y1="118.3" x2="395.5" y2="124.3" stroke="#44725a" stroke-width="1"/>
<line x1="383.9" y1="119.5" x2="422.7" y2="119.5" stroke="#9cc3a2" stroke-width="1"/>
<line x1="403.5" y1="116.5" x2="403.5" y2="122.5" stroke="#9cc3a2" stroke-width="1"/>
<line x1="387.5" y1="134.5" x2="398.8" y2="134.5" stroke="#44725a" stroke-width="1"/>
<rect x="290.5" y="37.5" width="3.0" height="3.0" fill="#96e0a2" stroke="#225f30" stroke-width="0.9"/>
<circle cx="291.0" cy="46.0" r="1.6" fill="#96e0a2" stroke="#225f30" stroke-width="1.0"/>
<path d="M288.5 50.1L290.9 52.5L288.5 54.9L286.1 52.5Z" fill="#96e0a2" stroke="#225f30" stroke-width="0.9"/>
<path d="M302.5 51.1L304.9 53.5L302.5 55.9L300.1 53.5Z" fill="#96e0a2" stroke="#225f30" stroke-width="0.9"/>
<circle cx="303.0" cy="64.0" r="1.6" fill="#96e0a2" stroke="#225f30" stroke-width="1.0"/>
<path d="M306.5 69.2L308.9 71.5L306.5 73.8L304.1 71.5Z" fill="#96e0a2" stroke="#225f30" stroke-width="0.9"/>
<circle cx="312.0" cy="70.0" r="1.6" fill="#96e0a2" stroke="#225f30" stroke-width="1.0"/>
<circle cx="329.0" cy="86.0" r="1.6" fill="#96e0a2" stroke="#225f30" stroke-width="1.0"/>
<path d="M311.5 86.2L313.9 88.5L311.5 90.8L309.1 88.5Z" fill="#96e0a2" stroke="#225f30" stroke-width="0.9"/>
<path d="M352.5 88.2L354.9 90.5L352.5 92.8L350.1 90.5Z" fill="#96e0a2" stroke="#225f30" stroke-width="0.9"/>
<circle cx="340.0" cy="98.0" r="1.6" fill="#96e0a2" stroke="#225f30" stroke-width="1.0"/>
<path d="M342.5 102.2L344.9 104.5L342.5 106.8L340.1 104.5Z" fill="#96e0a2" stroke="#225f30" stroke-width="0.9"/>
<circle cx="353.0" cy="104.0" r="1.6" fill="#96e0a2" stroke="#225f30" stroke-width="1.0"/>
<circle cx="353.0" cy="108.0" r="1.6" fill="#96e0a2" stroke="#225f30" stroke-width="1.0"/>
<path d="M326.5 107.2L328.9 109.5L326.5 111.8L324.1 109.5Z" fill="#96e0a2" stroke="#225f30" stroke-width="0.9"/>
<path d="M355.5 115.2L357.9 117.5L355.5 119.8L353.1 117.5Z" fill="#96e0a2" stroke="#225f30" stroke-width="0.9"/>
<path d="M395.5 119.2L397.9 121.5L395.5 123.8L393.1 121.5Z" fill="#96e0a2" stroke="#225f30" stroke-width="0.9"/>
<circle cx="403.0" cy="120.0" r="1.6" fill="#96e0a2" stroke="#225f30" stroke-width="1.0"/>
<path d="M379.5 127.2L381.9 129.5L379.5 131.8L377.1 129.5Z" fill="#96e0a2" stroke="#225f30" stroke-width="0.9"/>
<path d="M393.5 132.2L395.9 134.5L393.5 136.8L391.1 134.5Z" fill="#96e0a2" stroke="#225f30" stroke-width="0.9"/>
<path d="M502.0 16.8 L505.2 17.9 L507.4 24.2 L510.5 34.8 L511.6 40.2 L515.8 45.5 L518.0 54.0 L520.0 57.4 L524.0 60.6 L526.4 63.0 L528.0 66.1 L529.5 69.6 L530.3 65.3 L532.7 63.3 L535.1 63.3 L537.5 64.9 L540.7 66.9 L543.8 69.7 L547.8 71.7 L549.0 74.9 L549.8 78.4 L551.8 76.7 L555.8 76.3 L559.7 77.1 L562.9 78.2 L565.6 79.0 L571.1 81.8 L576.7 84.6 L582.3 87.9 L587.9 89.6 L593.4 91.8 L599.0 94.0 L604.6 96.3 L607.9 99.0 L611.3 103.0 L614.0 107.0 L616.2 110.7 L619.2 116.7 L620.3 122.7 L619.7 127.4 L618.0 131.0 L616.2 134.6 L613.2 137.0 L608.4 139.4 L603.6 140.0 L598.9 138.8 L592.9 138.2 L586.9 137.6 L581.0 137.6 L575.0 137.0 L565.7 134.4 L557.6 133.6 L553.9 134.0 L550.1 134.0 L546.4 135.0 L542.7 135.8 L539.0 135.4 L536.2 135.8 L533.4 137.2 L530.6 138.6 L527.9 139.5 L524.1 141.4 L521.4 143.3 L518.6 145.0 L515.8 146.0 L512.1 147.6 L510.6 146.6 L509.6 142.9 L508.7 133.6 L507.8 124.3 L507.2 117.0 L506.4 108.7 L505.7 94.2 L505.0 79.6 L504.5 65.0 L503.5 60.3 L502.0 45.5 L501.0 34.8 L501.0 24.2 Z" fill="#c3c3c3" stroke="#c3c3c3" stroke-width="0.6" stroke-linejoin="round"/>
<g fill="#c3c3c3"><circle cx="501.8" cy="17.5" r="2.04"/><circle cx="504.0" cy="18.3" r="2.26"/><circle cx="505.6" cy="21.4" r="2.09"/><circle cx="506.7" cy="24.6" r="1.82"/><circle cx="507.0" cy="28.0" r="2.23"/><circle cx="508.6" cy="31.1" r="1.98"/><circle cx="509.5" cy="34.4" r="2.04"/><circle cx="510.4" cy="37.6" r="1.90"/><circle cx="511.3" cy="41.2" r="2.15"/><circle cx="513.2" cy="44.0" r="2.33"/><circle cx="515.0" cy="46.3" r="2.10"/><circle cx="515.6" cy="49.7" r="2.27"/><circle cx="517.1" cy="52.8" r="1.99"/><circle cx="517.9" cy="56.4" r="2.11"/><circle cx="520.7" cy="58.9" r="2.19"/><circle cx="523.2" cy="61.2" r="2.39"/><circle cx="525.3" cy="63.8" r="2.11"/><circle cx="527.5" cy="66.0" r="1.82"/><circle cx="528.1" cy="69.4" r="2.38"/><circle cx="531.2" cy="67.2" r="2.00"/><circle cx="532.4" cy="65.1" r="2.08"/><circle cx="534.7" cy="64.2" r="1.91"/><circle cx="536.9" cy="66.1" r="2.08"/><circle cx="540.2" cy="67.2" r="1.91"/><circle cx="542.5" cy="69.5" r="1.84"/><circle cx="545.7" cy="71.1" r="1.83"/><circle cx="547.5" cy="73.2" r="2.28"/><circle cx="548.2" cy="76.4" r="2.10"/><circle cx="551.3" cy="78.5" r="2.01"/><circle cx="553.7" cy="77.4" r="2.11"/><circle cx="556.7" cy="77.9" r="2.39"/><circle cx="559.9" cy="78.5" r="2.38"/><circle cx="563.2" cy="79.5" r="2.07"/><circle cx="566.2" cy="80.6" r="1.97"/><circle cx="569.4" cy="81.8" r="1.85"/><circle cx="572.3" cy="83.7" r="2.04"/><circle cx="575.4" cy="84.9" r="2.30"/><circle cx="578.2" cy="86.8" r="1.92"/><circle cx="581.2" cy="88.5" r="1.99"/><circle cx="584.7" cy="89.3" r="1.99"/><circle cx="587.9" cy="90.4" r="1.83"/><circle cx="591.0" cy="91.8" r="2.27"/><circle cx="594.1" cy="93.1" r="2.20"/><circle cx="597.4" cy="94.1" r="1.94"/><circle cx="600.5" cy="95.4" r="2.03"/><circle cx="603.6" cy="96.8" r="1.84"/><circle cx="605.9" cy="98.9" r="2.23"/><circle cx="608.0" cy="101.3" r="2.33"/><circle cx="610.4" cy="103.7" r="2.28"/><circle cx="612.0" cy="106.6" r="2.30"/><circle cx="614.5" cy="108.9" r="1.85"/><circle cx="615.2" cy="112.3" r="2.39"/><circle cx="617.7" cy="114.9" r="1.88"/><circle cx="618.2" cy="118.0" r="2.29"/><circle cx="619.1" cy="121.3" r="2.25"/><circle cx="619.1" cy="124.4" r="2.19"/><circle cx="618.5" cy="127.4" r="1.86"/><circle cx="616.9" cy="130.4" r="2.31"/><circle cx="615.8" cy="133.6" r="2.15"/><circle cx="613.6" cy="135.6" r="2.21"/><circle cx="610.8" cy="137.2" r="1.96"/><circle cx="608.0" cy="138.4" r="2.19"/><circle cx="604.7" cy="139.0" r="1.87"/><circle cx="601.7" cy="138.6" r="2.07"/><circle cx="598.2" cy="137.6" r="2.16"/><circle cx="594.9" cy="137.0" r="2.39"/><circle cx="591.5" cy="137.0" r="1.94"/><circle cx="588.1" cy="136.7" r="1.97"/><circle cx="584.6" cy="136.7" r="1.98"/><circle cx="581.2" cy="136.4" r="2.35"/><circle cx="577.9" cy="135.8" r="2.30"/><circle cx="574.7" cy="135.9" r="2.03"/><circle cx="571.4" cy="135.0" r="2.30"/><circle cx="568.1" cy="134.1" r="1.96"/><circle cx="564.7" cy="133.3" r="1.88"/><circle cx="561.3" cy="132.6" r="2.12"/><circle cx="557.9" cy="132.4" r="2.20"/><circle cx="554.3" cy="133.2" r="2.20"/><circle cx="551.0" cy="133.2" r="1.98"/><circle cx="547.3" cy="133.2" r="2.31"/><circle cx="544.2" cy="134.4" r="2.16"/><circle cx="541.2" cy="134.6" r="2.20"/><circle cx="537.5" cy="134.5" r="2.14"/><circle cx="534.0" cy="135.6" r="2.09"/><circle cx="530.9" cy="137.1" r="2.33"/><circle cx="528.1" cy="138.7" r="1.95"/><circle cx="524.9" cy="140.2" r="2.09"/><circle cx="521.7" cy="141.7" r="1.98"/><circle cx="519.0" cy="143.7" r="1.82"/><circle cx="515.9" cy="144.6" r="2.34"/><circle cx="512.9" cy="146.2" r="1.93"/><circle cx="511.0" cy="146.1" r="1.99"/><circle cx="510.4" cy="142.8" r="1.82"/><circle cx="510.0" cy="139.5" r="2.06"/><circle cx="510.3" cy="136.1" r="2.31"/><circle cx="509.7" cy="132.7" r="2.36"/><circle cx="509.2" cy="129.3" r="2.29"/><circle cx="508.8" cy="126.0" r="2.10"/><circle cx="508.9" cy="122.6" r="2.05"/><circle cx="508.7" cy="119.2" r="2.04"/><circle cx="508.0" cy="115.8" r="1.93"/><circle cx="507.9" cy="112.4" r="1.99"/><circle cx="508.0" cy="109.0" r="2.36"/><circle cx="507.2" cy="105.7" r="2.18"/><circle cx="507.1" cy="102.3" r="1.86"/><circle cx="506.8" cy="98.9" r="1.88"/><circle cx="506.6" cy="95.5" r="2.13"/><circle cx="506.3" cy="92.1" r="1.88"/><circle cx="506.2" cy="88.7" r="2.12"/><circle cx="506.6" cy="85.3" r="2.28"/><circle cx="506.3" cy="81.9" r="1.94"/><circle cx="506.0" cy="78.5" r="1.80"/><circle cx="506.0" cy="75.1" r="2.10"/><circle cx="505.6" cy="71.7" r="2.19"/><circle cx="505.2" cy="68.3" r="1.81"/><circle cx="505.7" cy="64.7" r="2.05"/><circle cx="505.2" cy="61.3" r="2.40"/><circle cx="504.0" cy="58.2" r="2.15"/><circle cx="503.9" cy="54.8" r="1.92"/><circle cx="503.3" cy="51.4" r="2.11"/><circle cx="503.6" cy="48.0" r="2.07"/><circle cx="503.1" cy="44.6" r="2.36"/><circle cx="502.7" cy="41.3" r="2.26"/><circle cx="502.0" cy="37.9" r="2.09"/><circle cx="502.4" cy="34.6" r="2.32"/><circle cx="501.9" cy="31.2" r="1.91"/><circle cx="501.6" cy="27.8" r="2.08"/><circle cx="501.8" cy="24.4" r="2.23"/><circle cx="503.0" cy="21.2" r="2.35"/><circle cx="502.9" cy="17.8" r="2.35"/></g>
<path d="M541.9 100.0 L553.0 100.0 L553.0 108.5 L541.9 108.5 Z" fill="#efd39c" stroke="#efd39c" stroke-width="1.5" stroke-linejoin="round"/>
<ellipse cx="574" cy="112" rx="7.5" ry="3.7" fill="#efd39c"/>
<g stroke="#f2a08c" stroke-width="1.25"><path d="M567.1 116.6h4.6M569.4 114.3v4.6"/><path d="M544.6 132.9h4.6M546.9 130.6v4.6"/><path d="M573.8 119.3h4.6M576.1 117.0v4.6"/><path d="M544.3 122.9h4.6M546.6 120.6v4.6"/><path d="M544.1 121.0h4.6M546.4 118.7v4.6"/><path d="M560.3 126.4h4.6M562.6 124.1v4.6"/><path d="M562.6 109.9h4.6M564.9 107.6v4.6"/><path d="M555.0 125.5h4.6M557.3 123.2v4.6"/><path d="M548.2 130.3h4.6M550.5 128.0v4.6"/><path d="M560.5 115.0h4.6M562.8 112.7v4.6"/><path d="M562.1 114.2h4.6M564.4 111.9v4.6"/><path d="M553.2 122.8h4.6M555.5 120.5v4.6"/><path d="M551.6 128.9h4.6M553.9 126.6v4.6"/><path d="M562.3 120.7h4.6M564.6 118.4v4.6"/><path d="M538.9 120.3h4.6M541.2 118.0v4.6"/><path d="M549.0 109.7h4.6M551.3 107.4v4.6"/><path d="M532.7 117.7h4.6M535.0 115.4v4.6"/><path d="M539.0 115.9h4.6M541.3 113.6v4.6"/><path d="M559.4 129.2h4.6M561.7 126.9v4.6"/><path d="M554.1 120.6h4.6M556.4 118.3v4.6"/><path d="M545.5 124.8h4.6M547.8 122.5v4.6"/><path d="M551.0 115.3h4.6M553.3 113.0v4.6"/><path d="M532.1 124.6h4.6M534.4 122.3v4.6"/><path d="M530.3 127.2h4.6M532.6 124.9v4.6"/><path d="M556.6 123.3h4.6M558.9 121.0v4.6"/><path d="M548.7 127.5h4.6M551.0 125.2v4.6"/><path d="M542.7 118.1h4.6M545.0 115.8v4.6"/><path d="M531.9 115.5h4.6M534.2 113.2v4.6"/><path d="M537.0 108.0h4.6M539.3 105.7v4.6"/><path d="M567.8 125.9h4.6M570.1 123.6v4.6"/><path d="M546.9 105.2h4.6M549.2 102.9v4.6"/><path d="M553.9 122.8h4.6M556.2 120.5v4.6"/><path d="M551.8 108.5h4.6M554.1 106.2v4.6"/><path d="M563.9 134.0h4.6M566.2 131.7v4.6"/></g>
<g stroke="#649fd6" stroke-width="1.25"><path d="M571.8 105.5h4.6M574.1 103.2v4.6"/><path d="M578.0 106.7h4.6M580.3 104.4v4.6"/><path d="M576.0 101.0h4.6M578.3 98.7v4.6"/><path d="M567.8 108.1h4.6M570.1 105.8v4.6"/><path d="M568.4 104.3h4.6M570.7 102.0v4.6"/><path d="M572.0 102.2h4.6M574.3 99.9v4.6"/><path d="M581.2 101.8h4.6M583.5 99.5v4.6"/><path d="M567.6 107.9h4.6M569.9 105.6v4.6"/><path d="M581.6 108.8h4.6M583.9 106.5v4.6"/><path d="M579.4 101.1h4.6M581.7 98.8v4.6"/><path d="M583.8 102.4h4.6M586.1 100.1v4.6"/><path d="M576.9 99.6h4.6M579.2 97.3v4.6"/><path d="M571.2 105.8h4.6M573.5 103.5v4.6"/><path d="M580.4 104.1h4.6M582.7 101.8v4.6"/><path d="M584.3 103.7h4.6M586.6 101.4v4.6"/><path d="M572.6 106.2h4.6M574.9 103.9v4.6"/><path d="M579.3 102.9h4.6M581.6 100.6v4.6"/><path d="M578.1 98.8h4.6M580.4 96.5v4.6"/><path d="M574.7 103.1h4.6M577.0 100.8v4.6"/><path d="M583.5 104.7h4.6M585.8 102.4v4.6"/><path d="M576.9 102.5h4.6M579.2 100.2v4.6"/><path d="M573.1 104.8h4.6M575.4 102.5v4.6"/><path d="M575.4 104.4h4.6M577.7 102.1v4.6"/><path d="M571.6 108.3h4.6M573.9 106.0v4.6"/><path d="M579.4 110.7h4.6M581.7 108.4v4.6"/><path d="M580.2 104.9h4.6M582.5 102.6v4.6"/><path d="M575.4 108.1h4.6M577.7 105.8v4.6"/><path d="M576.3 100.3h4.6M578.6 98.0v4.6"/><path d="M585.2 109.9h4.6M587.5 107.6v4.6"/><path d="M566.3 100.1h4.6M568.6 97.8v4.6"/><path d="M570.1 101.4h4.6M572.4 99.1v4.6"/><path d="M578.9 105.3h4.6M581.2 103.0v4.6"/><path d="M577.7 106.2h4.6M580.0 103.9v4.6"/><path d="M578.6 106.2h4.6M580.9 103.9v4.6"/><path d="M564.6 101.4h4.6M566.9 99.1v4.6"/><path d="M579.7 96.6h4.6M582.0 94.3v4.6"/><path d="M585.3 109.0h4.6M587.6 106.7v4.6"/><path d="M576.8 105.4h4.6M579.1 103.1v4.6"/><path d="M573.5 109.2h4.6M575.8 106.9v4.6"/><path d="M580.4 104.8h4.6M582.7 102.5v4.6"/><path d="M545.2 118.6h4.6M547.5 116.3v4.6"/><path d="M551.2 115.7h4.6M553.5 113.4v4.6"/><path d="M556.0 113.9h4.6M558.3 111.6v4.6"/><path d="M557.1 106.0h4.6M559.4 103.7v4.6"/><path d="M551.4 113.8h4.6M553.7 111.5v4.6"/><path d="M551.3 104.8h4.6M553.6 102.5v4.6"/><path d="M551.9 123.3h4.6M554.2 121.0v4.6"/><path d="M557.5 107.9h4.6M559.8 105.6v4.6"/><path d="M563.6 103.6h4.6M565.9 101.3v4.6"/><path d="M558.7 117.0h4.6M561.0 114.7v4.6"/><path d="M558.7 109.5h4.6M561.0 107.2v4.6"/><path d="M558.3 119.1h4.6M560.6 116.8v4.6"/><path d="M574.0 105.3h4.6M576.3 103.0v4.6"/><path d="M561.3 104.8h4.6M563.6 102.5v4.6"/><path d="M565.0 110.0h4.6M567.3 107.7v4.6"/><path d="M565.5 107.8h4.6M567.8 105.5v4.6"/><path d="M552.0 105.1h4.6M554.3 102.8v4.6"/><path d="M556.0 120.9h4.6M558.3 118.6v4.6"/><path d="M553.9 106.4h4.6M556.2 104.1v4.6"/><path d="M545.0 120.6h4.6M547.3 118.3v4.6"/><path d="M551.2 119.3h4.6M553.5 117.0v4.6"/><path d="M563.3 120.3h4.6M565.6 118.0v4.6"/><path d="M564.8 119.6h4.6M567.1 117.3v4.6"/><path d="M550.5 103.7h4.6M552.8 101.4v4.6"/><path d="M563.1 108.8h4.6M565.4 106.5v4.6"/><path d="M564.0 107.8h4.6M566.3 105.5v4.6"/><path d="M555.1 113.7h4.6M557.4 111.4v4.6"/><path d="M558.3 111.9h4.6M560.6 109.6v4.6"/><path d="M553.7 120.3h4.6M556.0 118.0v4.6"/><path d="M558.6 108.4h4.6M560.9 106.1v4.6"/><path d="M560.8 105.7h4.6M563.1 103.4v4.6"/><path d="M562.8 121.6h4.6M565.1 119.3v4.6"/><path d="M558.0 105.3h4.6M560.3 103.0v4.6"/><path d="M546.4 110.4h4.6M548.7 108.1v4.6"/><path d="M548.3 104.5h4.6M550.6 102.2v4.6"/><path d="M559.4 108.0h4.6M561.7 105.7v4.6"/><path d="M562.9 112.4h4.6M565.2 110.1v4.6"/><path d="M554.5 119.4h4.6M556.8 117.1v4.6"/><path d="M567.8 110.5h4.6M570.1 108.2v4.6"/><path d="M550.9 117.6h4.6M553.2 115.3v4.6"/></g>
<line x1="551.3" y1="103.5" x2="564.8" y2="103.5" stroke="#44725a" stroke-width="1"/>
<line x1="580.7" y1="106.5" x2="591.8" y2="106.5" stroke="#44725a" stroke-width="1"/>
<line x1="554.5" y1="115.5" x2="593.0" y2="115.5" stroke="#44725a" stroke-width="1"/>
<line x1="573.5" y1="108.3" x2="573.5" y2="121.8" stroke="#44725a" stroke-width="1"/>
<line x1="556.0" y1="117.5" x2="564.0" y2="117.5" stroke="#44725a" stroke-width="1"/>
<line x1="577.5" y1="120.5" x2="589.5" y2="120.5" stroke="#44725a" stroke-width="1"/>
<line x1="573.5" y1="122.5" x2="593.4" y2="122.5" stroke="#44725a" stroke-width="1"/>
<line x1="568.0" y1="129.5" x2="599.8" y2="129.5" stroke="#44725a" stroke-width="1"/>
<line x1="532.3" y1="126.5" x2="544.2" y2="126.5" stroke="#44725a" stroke-width="1"/>
<line x1="526.0" y1="129.5" x2="540.2" y2="129.5" stroke="#44725a" stroke-width="1"/>
<line x1="517.0" y1="139.5" x2="527.5" y2="139.5" stroke="#44725a" stroke-width="1"/>
<line x1="611.8" y1="129.5" x2="641.2" y2="129.5" stroke="#44725a" stroke-width="1"/>
<line x1="618.0" y1="131.5" x2="630.0" y2="131.5" stroke="#44725a" stroke-width="1"/>
<line x1="615.0" y1="137.5" x2="654.0" y2="137.5" stroke="#9cc3a2" stroke-width="1"/>
<circle cx="558.0" cy="104.0" r="1.6" fill="#96e0a2" stroke="#225f30" stroke-width="1.0"/>
<circle cx="587.0" cy="107.0" r="1.6" fill="#96e0a2" stroke="#225f30" stroke-width="1.0"/>
<circle cx="570.0" cy="112.0" r="1.6" fill="#96e0a2" stroke="#225f30" stroke-width="1.0"/>
<circle cx="574.0" cy="115.0" r="1.6" fill="#96e0a2" stroke="#225f30" stroke-width="1.0"/>
<rect x="558.5" y="116.5" width="3.0" height="3.0" fill="#96e0a2" stroke="#225f30" stroke-width="0.9"/>
<circle cx="584.0" cy="121.0" r="1.6" fill="#96e0a2" stroke="#225f30" stroke-width="1.0"/>
<circle cx="584.0" cy="123.0" r="1.6" fill="#96e0a2" stroke="#225f30" stroke-width="1.0"/>
<circle cx="584.0" cy="129.0" r="1.6" fill="#96e0a2" stroke="#225f30" stroke-width="1.0"/>
<path d="M542.5 121.2L544.9 123.5L542.5 125.8L540.1 123.5Z" fill="#96e0a2" stroke="#225f30" stroke-width="0.9"/>
<circle cx="538.0" cy="127.0" r="1.6" fill="#96e0a2" stroke="#225f30" stroke-width="1.0"/>
<circle cx="543.0" cy="128.0" r="1.6" fill="#96e0a2" stroke="#225f30" stroke-width="1.0"/>
<circle cx="534.0" cy="130.0" r="1.6" fill="#96e0a2" stroke="#225f30" stroke-width="1.0"/>
<circle cx="534.0" cy="133.0" r="1.6" fill="#96e0a2" stroke="#225f30" stroke-width="1.0"/>
<path d="M518.5 137.2L520.9 139.5L518.5 141.8L516.1 139.5Z" fill="#96e0a2" stroke="#225f30" stroke-width="0.9"/>
<circle cx="522.0" cy="139.0" r="1.6" fill="#96e0a2" stroke="#225f30" stroke-width="1.0"/>
<rect x="521.5" y="142.5" width="3.0" height="3.0" fill="#96e0a2" stroke="#225f30" stroke-width="0.9"/>
<path d="M610.5 120.2L612.9 122.5L610.5 124.8L608.1 122.5Z" fill="#96e0a2" stroke="#225f30" stroke-width="0.9"/>
<path d="M626.5 127.2L628.9 129.5L626.5 131.8L624.1 129.5Z" fill="#96e0a2" stroke="#225f30" stroke-width="0.9"/>
<path d="M624.5 129.2L626.9 131.5L624.5 133.8L622.1 131.5Z" fill="#96e0a2" stroke="#225f30" stroke-width="0.9"/>
<rect x="632.5" y="136.5" width="3.0" height="3.0" fill="#96e0a2" stroke="#225f30" stroke-width="0.9"/>
<path d="M94.3 239.2 L98.9 235.5 L103.6 232.2 L108.2 229.9 L112.8 227.1 L117.5 225.7 L122.1 225.7 L126.7 224.3 L131.4 224.3 L136.5 224.0 L140.6 223.6 L143.8 225.6 L147.0 228.8 L149.6 232.0 L152.3 235.2 L153.9 239.4 L156.5 243.7 L159.7 246.8 L161.3 250.0 L161.8 256.0 L160.3 261.4 L159.3 265.6 L157.7 270.9 L156.1 276.2 L154.0 280.3 L150.8 282.6 L146.5 285.6 L141.2 285.8 L135.9 286.2 L130.6 286.8 L125.3 287.6 L120.0 287.8 L116.7 288.5 L112.3 290.0 L107.9 287.8 L102.1 286.4 L97.7 288.5 L94.1 293.7 L91.9 296.6 L87.5 299.5 L83.1 301.4 L80.2 298.8 L77.3 295.8 L72.9 294.4 L68.5 295.8 L59.8 298.8 L52.5 301.7 L46.7 302.4 L42.3 301.7 L40.1 298.8 L40.8 295.0 L44.0 290.5 L48.0 285.0 L53.3 275.8 L59.9 267.8 L66.5 260.0 L73.2 253.5 L79.8 249.5 L86.4 244.0 L89.0 241.5 Z" fill="#c3c3c3" stroke="#c3c3c3" stroke-width="0.6" stroke-linejoin="round"/>
<g fill="#c3c3c3"><circle cx="95.2" cy="240.3" r="2.39"/><circle cx="97.5" cy="237.7" r="1.93"/><circle cx="100.2" cy="235.7" r="2.27"/><circle cx="103.0" cy="233.9" r="2.36"/><circle cx="105.7" cy="232.1" r="1.91"/><circle cx="109.0" cy="230.8" r="2.14"/><circle cx="111.8" cy="228.9" r="2.22"/><circle cx="114.6" cy="227.4" r="2.09"/><circle cx="117.6" cy="226.7" r="1.82"/><circle cx="121.0" cy="226.6" r="1.98"/><circle cx="124.6" cy="226.0" r="2.30"/><circle cx="127.6" cy="225.1" r="1.88"/><circle cx="131.0" cy="225.8" r="2.33"/><circle cx="134.5" cy="225.3" r="1.98"/><circle cx="137.9" cy="225.2" r="2.16"/><circle cx="140.8" cy="224.3" r="1.92"/><circle cx="143.2" cy="226.5" r="2.10"/><circle cx="145.5" cy="229.0" r="1.96"/><circle cx="147.7" cy="231.4" r="1.90"/><circle cx="149.9" cy="234.1" r="2.09"/><circle cx="152.0" cy="236.4" r="1.96"/><circle cx="152.8" cy="239.7" r="1.86"/><circle cx="154.6" cy="242.8" r="2.31"/><circle cx="156.8" cy="245.8" r="2.37"/><circle cx="159.1" cy="247.8" r="1.85"/><circle cx="160.8" cy="250.5" r="1.92"/><circle cx="160.8" cy="253.9" r="2.12"/><circle cx="160.3" cy="256.8" r="2.32"/><circle cx="159.6" cy="260.2" r="2.01"/><circle cx="159.3" cy="263.6" r="1.86"/><circle cx="157.9" cy="266.7" r="2.05"/><circle cx="157.1" cy="270.0" r="1.94"/><circle cx="155.5" cy="273.1" r="2.26"/><circle cx="154.8" cy="276.2" r="2.00"/><circle cx="153.6" cy="279.4" r="1.89"/><circle cx="151.5" cy="281.6" r="1.83"/><circle cx="148.5" cy="283.2" r="1.99"/><circle cx="146.0" cy="284.5" r="2.17"/><circle cx="142.7" cy="285.0" r="1.83"/><circle cx="139.2" cy="285.3" r="2.10"/><circle cx="135.8" cy="285.4" r="2.25"/><circle cx="132.4" cy="285.3" r="2.31"/><circle cx="128.9" cy="285.7" r="2.39"/><circle cx="125.6" cy="286.5" r="2.20"/><circle cx="122.4" cy="286.7" r="2.12"/><circle cx="118.9" cy="287.6" r="1.81"/><circle cx="115.5" cy="288.2" r="2.04"/><circle cx="112.1" cy="288.8" r="2.33"/><circle cx="110.0" cy="287.6" r="2.35"/><circle cx="106.5" cy="286.4" r="2.09"/><circle cx="103.2" cy="285.6" r="2.22"/><circle cx="99.4" cy="286.5" r="2.00"/><circle cx="96.3" cy="288.8" r="1.98"/><circle cx="94.6" cy="291.7" r="2.16"/><circle cx="92.4" cy="294.3" r="2.28"/><circle cx="90.2" cy="296.4" r="2.03"/><circle cx="87.5" cy="298.4" r="2.24"/><circle cx="84.4" cy="299.3" r="2.40"/><circle cx="82.7" cy="299.7" r="1.89"/><circle cx="80.6" cy="297.2" r="2.16"/><circle cx="77.4" cy="295.1" r="1.94"/><circle cx="74.4" cy="293.4" r="2.18"/><circle cx="70.5" cy="294.5" r="1.84"/><circle cx="67.1" cy="295.1" r="1.95"/><circle cx="63.8" cy="296.0" r="2.39"/><circle cx="60.6" cy="297.1" r="2.33"/><circle cx="57.4" cy="298.4" r="2.10"/><circle cx="54.3" cy="299.8" r="2.01"/><circle cx="51.3" cy="300.7" r="2.18"/><circle cx="47.9" cy="300.7" r="2.29"/><circle cx="44.9" cy="301.1" r="2.09"/><circle cx="42.5" cy="300.4" r="2.24"/><circle cx="40.9" cy="298.2" r="1.82"/><circle cx="41.8" cy="295.4" r="1.85"/><circle cx="43.8" cy="292.7" r="2.39"/><circle cx="45.8" cy="289.9" r="2.08"/><circle cx="47.6" cy="287.0" r="2.28"/><circle cx="49.1" cy="283.9" r="1.87"/><circle cx="51.0" cy="281.1" r="2.07"/><circle cx="52.7" cy="278.1" r="1.85"/><circle cx="55.0" cy="275.8" r="2.28"/><circle cx="56.7" cy="272.8" r="2.11"/><circle cx="59.0" cy="270.3" r="1.97"/><circle cx="61.0" cy="267.5" r="2.01"/><circle cx="63.7" cy="265.4" r="2.24"/><circle cx="66.0" cy="262.9" r="2.27"/><circle cx="67.8" cy="260.0" r="2.02"/><circle cx="70.4" cy="257.8" r="1.95"/><circle cx="72.5" cy="255.2" r="1.84"/><circle cx="75.1" cy="253.2" r="2.04"/><circle cx="78.3" cy="251.9" r="2.19"/><circle cx="80.9" cy="249.4" r="1.86"/><circle cx="83.7" cy="247.5" r="2.37"/><circle cx="86.2" cy="245.2" r="1.83"/><circle cx="88.8" cy="242.9" r="1.98"/><circle cx="91.5" cy="241.6" r="1.85"/><circle cx="94.6" cy="240.1" r="2.03"/></g>
<path d="M84.6 257.0 L92.0 256.0 L111.0 256.4 L118.0 259.0 L123.0 261.0 L122.0 264.0 L115.0 262.0 L105.0 261.0 L92.0 261.0 L90.5 272.5 L85.0 272.0 Z" fill="#efd39c" stroke="#efd39c" stroke-width="1.5" stroke-linejoin="round"/>
<g stroke="#f2a08c" stroke-width="1.25"><path d="M103.9 264.9h4.6M106.2 262.6v4.6"/><path d="M107.0 283.3h4.6M109.3 281.0v4.6"/><path d="M110.9 270.2h4.6M113.2 267.9v4.6"/><path d="M90.9 282.4h4.6M93.2 280.1v4.6"/><path d="M104.0 268.6h4.6M106.3 266.3v4.6"/><path d="M87.6 277.8h4.6M89.9 275.5v4.6"/><path d="M100.3 261.4h4.6M102.6 259.1v4.6"/><path d="M97.7 270.6h4.6M100.0 268.3v4.6"/><path d="M99.2 278.3h4.6M101.5 276.0v4.6"/><path d="M78.0 270.2h4.6M80.3 267.9v4.6"/><path d="M114.6 277.6h4.6M116.9 275.3v4.6"/><path d="M104.2 262.8h4.6M106.5 260.5v4.6"/><path d="M119.3 265.5h4.6M121.6 263.2v4.6"/><path d="M88.6 269.0h4.6M90.9 266.7v4.6"/><path d="M104.9 270.3h4.6M107.2 268.0v4.6"/><path d="M100.6 271.3h4.6M102.9 269.0v4.6"/><path d="M112.7 262.8h4.6M115.0 260.5v4.6"/><path d="M113.3 266.2h4.6M115.6 263.9v4.6"/><path d="M107.5 260.6h4.6M109.8 258.3v4.6"/><path d="M98.2 261.6h4.6M100.5 259.3v4.6"/><path d="M96.2 269.4h4.6M98.5 267.1v4.6"/><path d="M91.0 259.2h4.6M93.3 256.9v4.6"/><path d="M104.4 254.2h4.6M106.7 251.9v4.6"/><path d="M99.1 266.1h4.6M101.4 263.8v4.6"/><path d="M103.9 262.8h4.6M106.2 260.5v4.6"/><path d="M105.2 256.8h4.6M107.5 254.5v4.6"/><path d="M112.2 262.0h4.6M114.5 259.7v4.6"/><path d="M84.6 259.2h4.6M86.9 256.9v4.6"/><path d="M99.5 257.7h4.6M101.8 255.4v4.6"/><path d="M91.1 269.8h4.6M93.4 267.5v4.6"/><path d="M123.1 257.8h4.6M125.4 255.5v4.6"/><path d="M87.9 278.1h4.6M90.2 275.8v4.6"/><path d="M93.4 260.4h4.6M95.7 258.1v4.6"/><path d="M94.9 265.0h4.6M97.2 262.7v4.6"/><path d="M103.1 268.5h4.6M105.4 266.2v4.6"/><path d="M119.8 271.0h4.6M122.1 268.7v4.6"/><path d="M115.4 250.0h4.6M117.7 247.7v4.6"/><path d="M90.0 276.9h4.6M92.3 274.6v4.6"/><path d="M87.6 259.2h4.6M89.9 256.9v4.6"/><path d="M95.7 254.9h4.6M98.0 252.6v4.6"/><path d="M117.7 253.6h4.6M120.0 251.3v4.6"/><path d="M98.2 266.5h4.6M100.5 264.2v4.6"/><path d="M77.3 261.7h4.6M79.6 259.4v4.6"/><path d="M99.4 261.1h4.6M101.7 258.8v4.6"/><path d="M107.7 252.9h4.6M110.0 250.6v4.6"/><path d="M118.4 262.8h4.6M120.7 260.5v4.6"/><path d="M97.2 280.2h4.6M99.5 277.9v4.6"/><path d="M72.9 259.0h4.6M75.2 256.7v4.6"/><path d="M123.7 268.6h4.6M126.0 266.3v4.6"/><path d="M109.7 261.9h4.6M112.0 259.6v4.6"/></g>
<g stroke="#649fd6" stroke-width="1.25"><path d="M116.8 270.9h4.6M119.1 268.6v4.6"/><path d="M111.1 260.0h4.6M113.4 257.7v4.6"/><path d="M107.3 262.2h4.6M109.6 259.9v4.6"/><path d="M113.3 261.7h4.6M115.6 259.4v4.6"/><path d="M120.3 269.4h4.6M122.6 267.1v4.6"/><path d="M119.0 265.7h4.6M121.3 263.4v4.6"/><path d="M101.2 274.2h4.6M103.5 271.9v4.6"/><path d="M110.9 269.7h4.6M113.2 267.4v4.6"/><path d="M112.9 270.8h4.6M115.2 268.5v4.6"/><path d="M111.6 264.6h4.6M113.9 262.3v4.6"/><path d="M105.0 265.1h4.6M107.3 262.8v4.6"/><path d="M120.7 267.2h4.6M123.0 264.9v4.6"/><path d="M111.0 261.2h4.6M113.3 258.9v4.6"/><path d="M116.8 275.1h4.6M119.1 272.8v4.6"/><path d="M116.3 265.3h4.6M118.6 263.0v4.6"/><path d="M92.5 269.1h4.6M94.8 266.8v4.6"/><path d="M113.8 265.7h4.6M116.1 263.4v4.6"/><path d="M93.9 262.5h4.6M96.2 260.2v4.6"/><path d="M110.9 261.7h4.6M113.2 259.4v4.6"/><path d="M104.7 272.8h4.6M107.0 270.5v4.6"/><path d="M97.9 266.3h4.6M100.2 264.0v4.6"/><path d="M115.6 263.6h4.6M117.9 261.3v4.6"/><path d="M88.5 267.8h4.6M90.8 265.5v4.6"/><path d="M103.4 264.2h4.6M105.7 261.9v4.6"/><path d="M104.2 259.5h4.6M106.5 257.2v4.6"/><path d="M94.8 266.6h4.6M97.1 264.3v4.6"/><path d="M102.8 265.7h4.6M105.1 263.4v4.6"/><path d="M98.0 259.0h4.6M100.3 256.7v4.6"/><path d="M119.0 273.5h4.6M121.3 271.2v4.6"/><path d="M107.0 264.8h4.6M109.3 262.5v4.6"/><path d="M124.0 268.9h4.6M126.3 266.6v4.6"/><path d="M110.7 270.8h4.6M113.0 268.5v4.6"/><path d="M96.1 262.5h4.6M98.4 260.2v4.6"/><path d="M108.6 261.2h4.6M110.9 258.9v4.6"/><path d="M107.7 267.6h4.6M110.0 265.3v4.6"/><path d="M114.6 268.9h4.6M116.9 266.6v4.6"/><path d="M89.8 265.9h4.6M92.1 263.6v4.6"/><path d="M111.7 271.3h4.6M114.0 269.0v4.6"/><path d="M119.9 265.2h4.6M122.2 262.9v4.6"/><path d="M104.9 260.9h4.6M107.2 258.6v4.6"/><path d="M101.4 262.7h4.6M103.7 260.4v4.6"/><path d="M90.8 265.0h4.6M93.1 262.7v4.6"/><path d="M120.1 273.8h4.6M122.4 271.5v4.6"/><path d="M111.3 266.0h4.6M113.6 263.7v4.6"/><path d="M111.6 270.2h4.6M113.9 267.9v4.6"/><path d="M114.2 268.4h4.6M116.5 266.1v4.6"/><path d="M104.8 265.2h4.6M107.1 262.9v4.6"/><path d="M96.5 270.2h4.6M98.8 267.9v4.6"/><path d="M97.8 267.7h4.6M100.1 265.4v4.6"/><path d="M101.1 267.8h4.6M103.4 265.5v4.6"/><path d="M100.7 265.4h4.6M103.0 263.1v4.6"/><path d="M113.7 269.4h4.6M116.0 267.1v4.6"/><path d="M101.1 269.0h4.6M103.4 266.7v4.6"/><path d="M106.8 264.2h4.6M109.1 261.9v4.6"/><path d="M120.6 266.9h4.6M122.9 264.6v4.6"/><path d="M107.4 270.5h4.6M109.7 268.2v4.6"/><path d="M124.0 266.7h4.6M126.3 264.4v4.6"/><path d="M108.9 267.6h4.6M111.2 265.3v4.6"/><path d="M117.5 268.8h4.6M119.8 266.5v4.6"/><path d="M98.2 262.1h4.6M100.5 259.8v4.6"/><path d="M122.2 260.4h4.6M124.5 258.1v4.6"/><path d="M97.9 272.4h4.6M100.2 270.1v4.6"/><path d="M90.5 269.5h4.6M92.8 267.2v4.6"/><path d="M125.2 267.9h4.6M127.5 265.6v4.6"/><path d="M95.8 273.5h4.6M98.1 271.2v4.6"/><path d="M128.3 267.1h4.6M130.6 264.8v4.6"/><path d="M104.6 261.9h4.6M106.9 259.6v4.6"/><path d="M114.1 270.9h4.6M116.4 268.6v4.6"/><path d="M100.9 268.0h4.6M103.2 265.7v4.6"/><path d="M120.9 274.3h4.6M123.2 272.0v4.6"/><path d="M99.6 265.9h4.6M101.9 263.6v4.6"/><path d="M96.7 262.5h4.6M99.0 260.2v4.6"/><path d="M119.1 271.5h4.6M121.4 269.2v4.6"/><path d="M103.7 265.9h4.6M106.0 263.6v4.6"/><path d="M101.2 275.5h4.6M103.5 273.2v4.6"/><path d="M101.2 265.5h4.6M103.5 263.2v4.6"/><path d="M98.3 270.1h4.6M100.6 267.8v4.6"/><path d="M102.5 258.4h4.6M104.8 256.1v4.6"/><path d="M111.9 267.7h4.6M114.2 265.4v4.6"/><path d="M106.4 267.3h4.6M108.7 265.0v4.6"/><path d="M111.9 268.8h4.6M114.2 266.5v4.6"/><path d="M123.0 270.3h4.6M125.3 268.0v4.6"/><path d="M121.5 270.3h4.6M123.8 268.0v4.6"/><path d="M115.2 266.5h4.6M117.5 264.2v4.6"/><path d="M109.6 261.0h4.6M111.9 258.7v4.6"/><path d="M107.7 262.6h4.6M110.0 260.3v4.6"/><path d="M113.0 265.6h4.6M115.3 263.3v4.6"/><path d="M120.3 259.5h4.6M122.6 257.2v4.6"/><path d="M104.8 274.2h4.6M107.1 271.9v4.6"/><path d="M110.8 262.9h4.6M113.1 260.6v4.6"/><path d="M110.7 267.2h4.6M113.0 264.9v4.6"/><path d="M93.6 266.8h4.6M95.9 264.5v4.6"/><path d="M120.7 271.5h4.6M123.0 269.2v4.6"/><path d="M121.7 268.7h4.6M124.0 266.4v4.6"/><path d="M100.6 266.8h4.6M102.9 264.5v4.6"/><path d="M118.3 262.2h4.6M120.6 259.9v4.6"/><path d="M123.1 268.0h4.6M125.4 265.7v4.6"/><path d="M128.6 265.2h4.6M130.9 262.9v4.6"/><path d="M107.4 265.8h4.6M109.7 263.5v4.6"/><path d="M101.0 265.5h4.6M103.3 263.2v4.6"/></g>
<line x1="92.8" y1="243.5" x2="106.6" y2="243.5" stroke="#44725a" stroke-width="1"/>
<line x1="99.5" y1="239.7" x2="99.5" y2="246.5" stroke="#44725a" stroke-width="1"/>
<line x1="101.0" y1="244.5" x2="128.0" y2="244.5" stroke="#44725a" stroke-width="1"/>
<line x1="115.5" y1="237.9" x2="115.5" y2="249.1" stroke="#44725a" stroke-width="1"/>
<line x1="111.7" y1="245.5" x2="134.1" y2="245.5" stroke="#44725a" stroke-width="1"/>
<line x1="109.1" y1="249.5" x2="141.0" y2="249.5" stroke="#44725a" stroke-width="1"/>
<line x1="152.4" y1="253.5" x2="181.0" y2="253.5" stroke="#44725a" stroke-width="1"/>
<line x1="167.5" y1="249.1" x2="167.5" y2="256.9" stroke="#44725a" stroke-width="1"/>
<line x1="157.2" y1="256.5" x2="195.4" y2="256.5" stroke="#44725a" stroke-width="1"/>
<line x1="160.0" y1="262.5" x2="171.2" y2="262.5" stroke="#44725a" stroke-width="1"/>
<line x1="165.5" y1="258.6" x2="165.5" y2="265.5" stroke="#44725a" stroke-width="1"/>
<line x1="122.0" y1="261.5" x2="133.3" y2="261.5" stroke="#44725a" stroke-width="1"/>
<line x1="128.5" y1="256.9" x2="128.5" y2="265.5" stroke="#44725a" stroke-width="1"/>
<line x1="115.2" y1="279.5" x2="135.0" y2="279.5" stroke="#44725a" stroke-width="1"/>
<line x1="125.5" y1="275.0" x2="125.5" y2="283.6" stroke="#44725a" stroke-width="1"/>
<line x1="84.5" y1="264.1" x2="84.5" y2="271.2" stroke="#44725a" stroke-width="1"/>
<line x1="67.0" y1="273.5" x2="83.0" y2="273.5" stroke="#44725a" stroke-width="1"/>
<line x1="58.3" y1="289.5" x2="69.4" y2="289.5" stroke="#44725a" stroke-width="1"/>
<line x1="63.5" y1="287.0" x2="63.5" y2="292.7" stroke="#44725a" stroke-width="1"/>
<line x1="74.2" y1="288.5" x2="81.4" y2="288.5" stroke="#44725a" stroke-width="1"/>
<path d="M99.5 241.2L101.8 243.5L99.5 245.8L97.2 243.5Z" fill="#96e0a2" stroke="#225f30" stroke-width="0.9"/>
<circle cx="115.0" cy="244.0" r="1.6" fill="#96e0a2" stroke="#225f30" stroke-width="1.0"/>
<circle cx="125.0" cy="245.0" r="1.6" fill="#96e0a2" stroke="#225f30" stroke-width="1.0"/>
<circle cx="125.0" cy="249.0" r="1.6" fill="#96e0a2" stroke="#225f30" stroke-width="1.0"/>
<path d="M151.5 242.2L153.8 244.5L151.5 246.8L149.2 244.5Z" fill="#96e0a2" stroke="#225f30" stroke-width="0.9"/>
<circle cx="168.0" cy="253.0" r="1.6" fill="#96e0a2" stroke="#225f30" stroke-width="1.0"/>
<circle cx="176.0" cy="256.0" r="1.6" fill="#96e0a2" stroke="#225f30" stroke-width="1.0"/>
<path d="M165.5 260.1L167.8 262.5L165.5 264.9L163.2 262.5Z" fill="#96e0a2" stroke="#225f30" stroke-width="0.9"/>
<circle cx="128.0" cy="262.0" r="1.6" fill="#96e0a2" stroke="#225f30" stroke-width="1.0"/>
<circle cx="101.0" cy="265.0" r="1.6" fill="#96e0a2" stroke="#225f30" stroke-width="1.0"/>
<circle cx="112.0" cy="270.0" r="1.6" fill="#96e0a2" stroke="#225f30" stroke-width="1.0"/>
<circle cx="125.0" cy="280.0" r="1.6" fill="#96e0a2" stroke="#225f30" stroke-width="1.0"/>
<path d="M84.5 265.1L86.8 267.5L84.5 269.9L82.2 267.5Z" fill="#96e0a2" stroke="#225f30" stroke-width="0.9"/>
<circle cx="75.0" cy="274.0" r="1.6" fill="#96e0a2" stroke="#225f30" stroke-width="1.0"/>
<circle cx="64.0" cy="283.0" r="1.6" fill="#96e0a2" stroke="#225f30" stroke-width="1.0"/>
<rect x="73.5" y="279.5" width="3.0" height="3.0" fill="#96e0a2" stroke="#225f30" stroke-width="0.9"/>
<path d="M63.5 287.1L65.8 289.5L63.5 291.9L61.1 289.5Z" fill="#96e0a2" stroke="#225f30" stroke-width="0.9"/>
<circle cx="79.0" cy="289.0" r="1.6" fill="#96e0a2" stroke="#225f30" stroke-width="1.0"/>
<rect x="82.5" y="289.5" width="3.0" height="3.0" fill="#96e0a2" stroke="#225f30" stroke-width="0.9"/>
<path d="M60.5 297.1L62.9 299.5L60.5 301.9L58.1 299.5Z" fill="#96e0a2" stroke="#225f30" stroke-width="0.9"/>
<path d="M285.4 232.4 L288.2 233.3 L291.0 238.0 L292.8 242.6 L297.5 245.4 L301.4 245.1 L303.7 246.0 L306.1 249.9 L310.9 251.5 L330.0 260.0 L345.0 268.0 L357.0 276.1 L363.4 278.5 L369.7 280.0 L376.0 281.7 L379.4 285.4 L381.9 292.9 L384.4 303.0 L386.9 310.5 L389.4 318.1 L390.7 325.7 L388.2 326.5 L380.6 325.8 L373.8 325.0 L365.9 322.8 L357.9 321.2 L350.7 320.0 L346.1 319.5 L341.4 318.6 L336.8 317.2 L332.1 314.4 L329.4 311.7 L325.6 308.9 L322.9 307.9 L318.2 306.1 L313.6 305.6 L308.9 304.7 L305.2 303.3 L301.5 299.6 L298.7 295.9 L295.0 293.0 L291.5 291.9 L286.2 290.6 L283.6 287.2 L278.3 283.3 L275.6 280.6 L271.0 276.6 L271.6 270.0 L272.4 262.1 L273.9 252.8 L275.2 243.6 L278.9 236.1 L281.7 234.3 Z" fill="#c3c3c3" stroke="#c3c3c3" stroke-width="0.6" stroke-linejoin="round"/>
<g fill="#c3c3c3"><circle cx="285.0" cy="233.6" r="2.01"/><circle cx="287.8" cy="234.0" r="2.02"/><circle cx="289.0" cy="237.3" r="2.38"/><circle cx="290.6" cy="240.1" r="1.89"/><circle cx="292.3" cy="243.9" r="2.23"/><circle cx="295.6" cy="245.0" r="1.93"/><circle cx="299.2" cy="246.3" r="2.31"/><circle cx="302.0" cy="246.5" r="2.17"/><circle cx="303.9" cy="248.2" r="2.28"/><circle cx="306.6" cy="250.9" r="1.98"/><circle cx="309.7" cy="252.5" r="2.40"/><circle cx="313.0" cy="253.1" r="2.02"/><circle cx="315.7" cy="255.3" r="2.37"/><circle cx="319.2" cy="255.9" r="1.92"/><circle cx="322.1" cy="257.7" r="1.81"/><circle cx="325.3" cy="258.9" r="2.20"/><circle cx="328.4" cy="260.3" r="2.31"/><circle cx="331.3" cy="261.9" r="2.13"/><circle cx="334.3" cy="263.5" r="2.07"/><circle cx="337.4" cy="264.9" r="2.00"/><circle cx="340.6" cy="266.3" r="1.91"/><circle cx="343.4" cy="268.1" r="1.81"/><circle cx="346.3" cy="269.8" r="2.02"/><circle cx="349.0" cy="271.8" r="2.12"/><circle cx="351.9" cy="273.6" r="1.98"/><circle cx="354.5" cy="275.8" r="2.28"/><circle cx="357.8" cy="277.3" r="2.09"/><circle cx="360.9" cy="278.7" r="1.87"/><circle cx="364.2" cy="280.0" r="2.36"/><circle cx="367.6" cy="280.6" r="2.14"/><circle cx="370.9" cy="281.1" r="1.92"/><circle cx="374.2" cy="282.0" r="1.98"/><circle cx="376.4" cy="283.7" r="2.16"/><circle cx="378.3" cy="285.9" r="2.01"/><circle cx="379.5" cy="289.1" r="2.38"/><circle cx="380.5" cy="292.3" r="2.29"/><circle cx="381.5" cy="295.5" r="2.08"/><circle cx="382.1" cy="298.8" r="2.18"/><circle cx="383.7" cy="301.9" r="1.85"/><circle cx="384.3" cy="305.4" r="1.83"/><circle cx="385.6" cy="308.5" r="2.01"/><circle cx="386.0" cy="312.0" r="2.30"/><circle cx="387.4" cy="315.1" r="2.15"/><circle cx="388.6" cy="318.3" r="2.25"/><circle cx="389.0" cy="321.5" r="2.02"/><circle cx="389.4" cy="324.9" r="2.03"/><circle cx="388.1" cy="325.5" r="1.86"/><circle cx="385.2" cy="325.0" r="2.10"/><circle cx="381.8" cy="324.5" r="2.34"/><circle cx="378.5" cy="324.1" r="2.32"/><circle cx="375.0" cy="324.0" r="2.14"/><circle cx="371.9" cy="323.4" r="1.83"/><circle cx="368.6" cy="322.6" r="1.98"/><circle cx="365.2" cy="321.6" r="1.82"/><circle cx="361.9" cy="321.0" r="2.35"/><circle cx="358.6" cy="320.1" r="2.16"/><circle cx="355.3" cy="319.3" r="2.29"/><circle cx="351.9" cy="318.9" r="2.05"/><circle cx="348.4" cy="318.7" r="2.06"/><circle cx="345.1" cy="318.4" r="1.94"/><circle cx="341.7" cy="318.0" r="1.95"/><circle cx="338.8" cy="316.2" r="2.39"/><circle cx="335.7" cy="315.6" r="2.05"/><circle cx="332.6" cy="314.0" r="2.02"/><circle cx="330.8" cy="311.3" r="2.34"/><circle cx="327.7" cy="309.4" r="2.07"/><circle cx="324.5" cy="307.8" r="2.01"/><circle cx="321.4" cy="306.4" r="1.90"/><circle cx="318.0" cy="305.5" r="1.94"/><circle cx="314.7" cy="304.6" r="2.20"/><circle cx="311.4" cy="303.9" r="2.15"/><circle cx="308.2" cy="303.6" r="2.03"/><circle cx="305.4" cy="302.4" r="1.86"/><circle cx="303.0" cy="300.0" r="1.89"/><circle cx="300.9" cy="297.5" r="2.13"/><circle cx="298.7" cy="294.5" r="1.97"/><circle cx="295.9" cy="292.6" r="2.03"/><circle cx="292.5" cy="291.1" r="2.35"/><circle cx="289.1" cy="290.5" r="1.81"/><circle cx="286.9" cy="289.3" r="2.20"/><circle cx="284.2" cy="287.1" r="1.94"/><circle cx="281.7" cy="284.4" r="2.31"/><circle cx="278.9" cy="282.6" r="2.07"/><circle cx="276.7" cy="280.1" r="2.25"/><circle cx="274.0" cy="278.0" r="2.20"/><circle cx="272.5" cy="276.5" r="2.28"/><circle cx="271.9" cy="273.0" r="1.83"/><circle cx="272.5" cy="269.7" r="2.27"/><circle cx="272.7" cy="266.3" r="2.06"/><circle cx="272.7" cy="262.9" r="1.84"/><circle cx="273.5" cy="259.6" r="2.07"/><circle cx="274.4" cy="256.3" r="2.32"/><circle cx="274.8" cy="252.9" r="2.14"/><circle cx="275.0" cy="249.5" r="1.87"/><circle cx="276.2" cy="246.2" r="2.12"/><circle cx="276.4" cy="243.1" r="1.87"/><circle cx="278.0" cy="240.1" r="2.26"/><circle cx="279.8" cy="237.2" r="2.26"/><circle cx="281.7" cy="235.2" r="2.17"/><circle cx="284.7" cy="233.9" r="2.19"/></g>
<path d="M314.1 267.2 L330.0 267.0 L358.6 279.3 L353.8 284.6 L314.1 284.6 Z" fill="#efd39c" stroke="#efd39c" stroke-width="1.5" stroke-linejoin="round"/>
<g stroke="#f2a08c" stroke-width="1.25"><path d="M324.6 249.0h4.6M326.9 246.7v4.6"/><path d="M297.6 270.5h4.6M299.9 268.2v4.6"/><path d="M341.4 264.6h4.6M343.7 262.3v4.6"/><path d="M323.2 259.6h4.6M325.5 257.3v4.6"/><path d="M319.6 253.3h4.6M321.9 251.0v4.6"/><path d="M308.9 251.1h4.6M311.2 248.8v4.6"/><path d="M324.1 266.4h4.6M326.4 264.1v4.6"/><path d="M318.6 262.3h4.6M320.9 260.0v4.6"/><path d="M344.1 271.1h4.6M346.4 268.8v4.6"/><path d="M339.0 268.2h4.6M341.3 265.9v4.6"/><path d="M336.1 253.8h4.6M338.4 251.5v4.6"/><path d="M334.8 243.7h4.6M337.1 241.4v4.6"/><path d="M326.8 264.4h4.6M329.1 262.1v4.6"/><path d="M330.1 241.4h4.6M332.4 239.1v4.6"/><path d="M338.0 248.4h4.6M340.3 246.1v4.6"/><path d="M322.1 244.1h4.6M324.4 241.8v4.6"/><path d="M328.0 259.2h4.6M330.3 256.9v4.6"/><path d="M322.6 247.8h4.6M324.9 245.5v4.6"/><path d="M335.2 261.6h4.6M337.5 259.3v4.6"/><path d="M319.8 249.0h4.6M322.1 246.7v4.6"/><path d="M312.3 257.9h4.6M314.6 255.6v4.6"/><path d="M295.6 252.6h4.6M297.9 250.3v4.6"/><path d="M342.6 259.4h4.6M344.9 257.1v4.6"/><path d="M322.9 256.8h4.6M325.2 254.5v4.6"/><path d="M335.9 270.9h4.6M338.2 268.6v4.6"/><path d="M327.2 256.5h4.6M329.5 254.2v4.6"/><path d="M334.3 270.4h4.6M336.6 268.1v4.6"/><path d="M320.9 266.2h4.6M323.2 263.9v4.6"/><path d="M332.3 269.8h4.6M334.6 267.5v4.6"/><path d="M326.1 255.1h4.6M328.4 252.8v4.6"/><path d="M325.7 257.3h4.6M328.0 255.0v4.6"/><path d="M323.6 275.9h4.6M325.9 273.6v4.6"/><path d="M336.9 261.4h4.6M339.2 259.1v4.6"/><path d="M329.8 267.0h4.6M332.1 264.7v4.6"/><path d="M330.4 257.2h4.6M332.7 254.9v4.6"/><path d="M324.4 280.9h4.6M326.7 278.6v4.6"/><path d="M312.6 276.6h4.6M314.9 274.3v4.6"/><path d="M311.5 256.5h4.6M313.8 254.2v4.6"/><path d="M341.2 250.9h4.6M343.5 248.6v4.6"/><path d="M315.5 272.8h4.6M317.8 270.5v4.6"/><path d="M320.3 268.9h4.6M322.6 266.6v4.6"/><path d="M323.2 259.5h4.6M325.5 257.2v4.6"/><path d="M336.2 267.7h4.6M338.5 265.4v4.6"/><path d="M346.9 247.8h4.6M349.2 245.5v4.6"/><path d="M323.6 271.9h4.6M325.9 269.6v4.6"/></g>
<g stroke="#649fd6" stroke-width="1.25"><path d="M332.4 271.4h4.6M334.7 269.1v4.6"/><path d="M322.8 274.5h4.6M325.1 272.2v4.6"/><path d="M340.4 276.5h4.6M342.7 274.2v4.6"/><path d="M334.7 280.5h4.6M337.0 278.2v4.6"/><path d="M345.2 274.4h4.6M347.5 272.1v4.6"/><path d="M354.7 277.5h4.6M357.0 275.2v4.6"/><path d="M330.4 277.2h4.6M332.7 274.9v4.6"/><path d="M331.5 279.3h4.6M333.8 277.0v4.6"/><path d="M332.5 274.9h4.6M334.8 272.6v4.6"/><path d="M330.2 274.8h4.6M332.5 272.5v4.6"/><path d="M354.4 279.0h4.6M356.7 276.7v4.6"/><path d="M331.8 266.3h4.6M334.1 264.0v4.6"/><path d="M346.8 269.6h4.6M349.1 267.3v4.6"/><path d="M330.3 276.6h4.6M332.6 274.3v4.6"/><path d="M325.2 277.2h4.6M327.5 274.9v4.6"/><path d="M351.0 273.2h4.6M353.3 270.9v4.6"/><path d="M328.8 272.0h4.6M331.1 269.7v4.6"/><path d="M355.7 274.1h4.6M358.0 271.8v4.6"/><path d="M352.9 273.4h4.6M355.2 271.1v4.6"/><path d="M340.4 274.1h4.6M342.7 271.8v4.6"/><path d="M340.4 274.7h4.6M342.7 272.4v4.6"/><path d="M348.5 279.2h4.6M350.8 276.9v4.6"/><path d="M337.3 268.3h4.6M339.6 266.0v4.6"/><path d="M331.5 268.4h4.6M333.8 266.1v4.6"/><path d="M316.2 273.1h4.6M318.5 270.8v4.6"/><path d="M330.4 282.4h4.6M332.7 280.1v4.6"/><path d="M332.7 265.9h4.6M335.0 263.6v4.6"/><path d="M343.3 273.1h4.6M345.6 270.8v4.6"/><path d="M348.6 273.9h4.6M350.9 271.6v4.6"/><path d="M359.9 269.6h4.6M362.2 267.3v4.6"/><path d="M341.6 270.9h4.6M343.9 268.6v4.6"/><path d="M333.5 264.7h4.6M335.8 262.4v4.6"/><path d="M345.8 264.7h4.6M348.1 262.4v4.6"/><path d="M343.1 275.4h4.6M345.4 273.1v4.6"/><path d="M343.5 265.1h4.6M345.8 262.8v4.6"/><path d="M348.0 269.6h4.6M350.3 267.3v4.6"/><path d="M343.3 271.2h4.6M345.6 268.9v4.6"/><path d="M360.7 270.2h4.6M363.0 267.9v4.6"/><path d="M336.5 274.6h4.6M338.8 272.3v4.6"/><path d="M322.7 270.7h4.6M325.0 268.4v4.6"/><path d="M336.5 274.4h4.6M338.8 272.1v4.6"/><path d="M335.0 282.2h4.6M337.3 279.9v4.6"/><path d="M338.7 276.4h4.6M341.0 274.1v4.6"/><path d="M346.5 270.4h4.6M348.8 268.1v4.6"/><path d="M351.9 277.1h4.6M354.2 274.8v4.6"/><path d="M340.0 272.5h4.6M342.3 270.2v4.6"/><path d="M324.2 265.7h4.6M326.5 263.4v4.6"/><path d="M324.9 274.7h4.6M327.2 272.4v4.6"/><path d="M341.4 269.5h4.6M343.7 267.2v4.6"/><path d="M336.3 280.3h4.6M338.6 278.0v4.6"/><path d="M325.8 271.0h4.6M328.1 268.7v4.6"/><path d="M334.8 280.3h4.6M337.1 278.0v4.6"/><path d="M347.5 269.9h4.6M349.8 267.6v4.6"/><path d="M346.0 274.2h4.6M348.3 271.9v4.6"/><path d="M344.4 274.1h4.6M346.7 271.8v4.6"/><path d="M346.0 276.1h4.6M348.3 273.8v4.6"/><path d="M330.5 277.0h4.6M332.8 274.7v4.6"/><path d="M330.3 266.5h4.6M332.6 264.2v4.6"/><path d="M334.7 268.6h4.6M337.0 266.3v4.6"/><path d="M331.5 267.6h4.6M333.8 265.3v4.6"/><path d="M348.3 277.5h4.6M350.6 275.2v4.6"/><path d="M331.8 279.8h4.6M334.1 277.5v4.6"/><path d="M337.9 269.3h4.6M340.2 267.0v4.6"/><path d="M327.6 275.2h4.6M329.9 272.9v4.6"/><path d="M337.8 274.4h4.6M340.1 272.1v4.6"/><path d="M338.0 267.6h4.6M340.3 265.3v4.6"/><path d="M334.3 269.6h4.6M336.6 267.3v4.6"/><path d="M340.5 267.5h4.6M342.8 265.2v4.6"/><path d="M349.3 274.8h4.6M351.6 272.5v4.6"/><path d="M330.3 274.2h4.6M332.6 271.9v4.6"/><path d="M334.1 271.1h4.6M336.4 268.8v4.6"/><path d="M338.3 263.1h4.6M340.6 260.8v4.6"/><path d="M354.3 275.9h4.6M356.6 273.6v4.6"/><path d="M337.1 280.1h4.6M339.4 277.8v4.6"/><path d="M341.7 268.7h4.6M344.0 266.4v4.6"/><path d="M337.9 270.2h4.6M340.2 267.9v4.6"/><path d="M336.1 267.9h4.6M338.4 265.6v4.6"/><path d="M337.9 276.7h4.6M340.2 274.4v4.6"/><path d="M342.8 281.7h4.6M345.1 279.4v4.6"/><path d="M345.3 275.1h4.6M347.6 272.8v4.6"/><path d="M341.0 275.7h4.6M343.3 273.4v4.6"/><path d="M336.9 266.4h4.6M339.2 264.1v4.6"/><path d="M335.8 273.4h4.6M338.1 271.1v4.6"/><path d="M343.6 278.6h4.6M345.9 276.3v4.6"/><path d="M330.8 272.7h4.6M333.1 270.4v4.6"/><path d="M350.6 269.3h4.6M352.9 267.0v4.6"/><path d="M333.0 273.3h4.6M335.3 271.0v4.6"/><path d="M341.1 273.9h4.6M343.4 271.6v4.6"/><path d="M325.4 267.9h4.6M327.7 265.6v4.6"/><path d="M353.6 272.7h4.6M355.9 270.4v4.6"/><path d="M328.8 257.8h4.6M331.1 255.5v4.6"/><path d="M321.8 259.6h4.6M324.1 257.3v4.6"/><path d="M317.1 265.2h4.6M319.4 262.9v4.6"/><path d="M327.2 257.6h4.6M329.5 255.3v4.6"/><path d="M321.0 267.6h4.6M323.3 265.3v4.6"/><path d="M310.9 262.9h4.6M313.2 260.6v4.6"/><path d="M329.9 267.6h4.6M332.2 265.3v4.6"/><path d="M332.9 253.1h4.6M335.2 250.8v4.6"/><path d="M327.1 255.9h4.6M329.4 253.6v4.6"/><path d="M327.2 259.0h4.6M329.5 256.7v4.6"/><path d="M327.8 254.0h4.6M330.1 251.7v4.6"/><path d="M321.3 261.3h4.6M323.6 259.0v4.6"/><path d="M324.7 263.5h4.6M327.0 261.2v4.6"/><path d="M336.4 252.4h4.6M338.7 250.1v4.6"/><path d="M320.4 247.9h4.6M322.7 245.6v4.6"/><path d="M325.4 267.7h4.6M327.7 265.4v4.6"/><path d="M321.5 265.2h4.6M323.8 262.9v4.6"/><path d="M328.0 263.8h4.6M330.3 261.5v4.6"/><path d="M312.9 250.7h4.6M315.2 248.4v4.6"/><path d="M316.1 252.8h4.6M318.4 250.5v4.6"/><path d="M321.5 256.4h4.6M323.8 254.1v4.6"/><path d="M317.8 255.7h4.6M320.1 253.4v4.6"/><path d="M315.1 253.1h4.6M317.4 250.8v4.6"/><path d="M321.4 256.6h4.6M323.7 254.3v4.6"/><path d="M322.2 257.4h4.6M324.5 255.1v4.6"/><path d="M320.3 258.2h4.6M322.6 255.9v4.6"/><path d="M325.0 266.4h4.6M327.3 264.1v4.6"/><path d="M323.8 248.7h4.6M326.1 246.4v4.6"/><path d="M317.8 249.0h4.6M320.1 246.7v4.6"/><path d="M317.7 263.9h4.6M320.0 261.6v4.6"/></g>
<line x1="288.4" y1="269.5" x2="299.7" y2="269.5" stroke="#44725a" stroke-width="1"/>
<line x1="297.3" y1="276.5" x2="313.5" y2="276.5" stroke="#44725a" stroke-width="1"/>
<line x1="327.3" y1="292.5" x2="334.6" y2="292.5" stroke="#44725a" stroke-width="1"/>
<line x1="344.8" y1="300.5" x2="363.8" y2="300.5" stroke="#44725a" stroke-width="1"/>
<line x1="339.7" y1="304.5" x2="370.4" y2="304.5" stroke="#9cc3a2" stroke-width="1"/>
<line x1="322.2" y1="307.5" x2="336.0" y2="307.5" stroke="#44725a" stroke-width="1"/>
<line x1="329.5" y1="304.0" x2="329.5" y2="311.3" stroke="#44725a" stroke-width="1"/>
<line x1="334.6" y1="308.5" x2="363.8" y2="308.5" stroke="#44725a" stroke-width="1"/>
<line x1="344.5" y1="304.7" x2="344.5" y2="313.5" stroke="#44725a" stroke-width="1"/>
<line x1="349.2" y1="310.5" x2="363.8" y2="310.5" stroke="#44725a" stroke-width="1"/>
<line x1="352.1" y1="315.5" x2="362.3" y2="315.5" stroke="#44725a" stroke-width="1"/>
<line x1="382.8" y1="319.5" x2="420.0" y2="319.5" stroke="#44725a" stroke-width="1"/>
<line x1="397.5" y1="315.7" x2="397.5" y2="323.0" stroke="#44725a" stroke-width="1"/>
<line x1="405.5" y1="314.2" x2="405.5" y2="324.4" stroke="#44725a" stroke-width="1"/>
<line x1="389.3" y1="325.5" x2="400.3" y2="325.5" stroke="#44725a" stroke-width="1"/>
<circle cx="294.0" cy="270.0" r="1.6" fill="#96e0a2" stroke="#225f30" stroke-width="1.0"/>
<circle cx="291.0" cy="276.0" r="1.6" fill="#96e0a2" stroke="#225f30" stroke-width="1.0"/>
<rect x="303.5" y="272.5" width="3.0" height="3.0" fill="#96e0a2" stroke="#225f30" stroke-width="0.9"/>
<path d="M305.5 274.1L307.9 276.5L305.5 278.9L303.1 276.5Z" fill="#96e0a2" stroke="#225f30" stroke-width="0.9"/>
<circle cx="309.0" cy="280.0" r="1.6" fill="#96e0a2" stroke="#225f30" stroke-width="1.0"/>
<rect x="312.5" y="278.5" width="3.0" height="3.0" fill="#96e0a2" stroke="#225f30" stroke-width="0.9"/>
<rect x="329.5" y="291.5" width="3.0" height="3.0" fill="#96e0a2" stroke="#225f30" stroke-width="0.9"/>
<circle cx="314.0" cy="298.0" r="1.6" fill="#96e0a2" stroke="#225f30" stroke-width="1.0"/>
<circle cx="342.0" cy="302.0" r="1.6" fill="#96e0a2" stroke="#225f30" stroke-width="1.0"/>
<circle cx="354.0" cy="301.0" r="1.6" fill="#96e0a2" stroke="#225f30" stroke-width="1.0"/>
<circle cx="355.0" cy="304.0" r="1.6" fill="#96e0a2" stroke="#225f30" stroke-width="1.0"/>
<path d="M329.5 305.1L331.9 307.5L329.5 309.9L327.1 307.5Z" fill="#96e0a2" stroke="#225f30" stroke-width="0.9"/>
<path d="M344.5 306.1L346.9 308.5L344.5 310.9L342.1 308.5Z" fill="#96e0a2" stroke="#225f30" stroke-width="0.9"/>
<circle cx="354.0" cy="310.0" r="1.6" fill="#96e0a2" stroke="#225f30" stroke-width="1.0"/>
<path d="M357.5 313.1L359.9 315.5L357.5 317.9L355.1 315.5Z" fill="#96e0a2" stroke="#225f30" stroke-width="0.9"/>
<path d="M381.5 321.1L383.9 323.5L381.5 325.9L379.1 323.5Z" fill="#96e0a2" stroke="#225f30" stroke-width="0.9"/>
<circle cx="397.0" cy="319.0" r="1.6" fill="#96e0a2" stroke="#225f30" stroke-width="1.0"/>
<circle cx="405.0" cy="319.0" r="1.6" fill="#96e0a2" stroke="#225f30" stroke-width="1.0"/>
<path d="M394.5 323.1L396.9 325.5L394.5 327.9L392.1 325.5Z" fill="#96e0a2" stroke="#225f30" stroke-width="0.9"/>
<circle cx="38.6" cy="161.3" r="1.8" fill="#c3c3c3"/>
<circle cx="501.4" cy="5.1" r="1.9" fill="#c3c3c3"/>
<circle cx="502.7" cy="10.4" r="1.9" fill="#c3c3c3"/>
<circle cx="273" cy="283.3" r="1.9" fill="#c3c3c3"/>
<circle cx="271.7" cy="113.5" r="2" fill="#c3c3c3"/>
<circle cx="104.6" cy="51.5" r="2" fill="#c3c3c3"/>
<circle cx="91.8" cy="65" r="1.8" fill="#c3c3c3"/>
<circle cx="89.5" cy="70" r="1.8" fill="#c3c3c3"/>
<g stroke="#f2a08c" stroke-width="1.25"><path d="M65.7 69.0h4.6M68.0 66.7v4.6"/><path d="M66.9 79.3h4.6M69.2 77.0v4.6"/><path d="M62.5 113.8h4.6M64.8 111.5v4.6"/><path d="M67.0 120.6h4.6M69.3 118.3v4.6"/><path d="M78.7 120.6h4.6M81.0 118.3v4.6"/><path d="M113.3 131.8h4.6M115.6 129.5v4.6"/><path d="M96.3 121.7h4.6M98.6 119.4v4.6"/><path d="M116.7 89.0h4.6M119.0 86.7v4.6"/><path d="M280.3 48.7h4.6M282.6 46.4v4.6"/><path d="M338.7 52.0h4.6M341.0 49.7v4.6"/><path d="M292.2 103.4h4.6M294.5 101.1v4.6"/><path d="M304.9 103.4h4.6M307.2 101.1v4.6"/><path d="M314.7 103.4h4.6M317.0 101.1v4.6"/><path d="M295.9 210.4h4.6M298.2 208.1v4.6"/><path d="M300.1 222.2h4.6M302.4 219.9v4.6"/><path d="M307.2 218.8h4.6M309.5 216.5v4.6"/><path d="M316.5 219.2h4.6M318.8 216.9v4.6"/><path d="M322.8 226.3h4.6M325.1 224.0v4.6"/><path d="M300.1 303.1h4.6M302.4 300.8v4.6"/><path d="M66.0 254.5h4.6M68.3 252.2v4.6"/><path d="M70.3 251.4h4.6M72.6 249.1v4.6"/><path d="M52.3 264.1h4.6M54.6 261.8v4.6"/><path d="M510.7 110.0h4.6M513.0 107.7v4.6"/><path d="M525.7 117.0h4.6M528.0 114.7v4.6"/><path d="M533.7 137.0h4.6M536.0 134.7v4.6"/><path d="M287.7 262.0h4.6M290.0 259.7v4.6"/></g>
<g stroke="#649fd6" stroke-width="1.25"><path d="M62.5 117.2h4.6M64.8 114.9v4.6"/><path d="M98.7 88.0h4.6M101.0 85.7v4.6"/><path d="M67.7 101.0h4.6M70.0 98.7v4.6"/><path d="M406.1 101.6h4.6M408.4 99.3v4.6"/><path d="M332.6 60.0h4.6M334.9 57.7v4.6"/><path d="M345.2 66.5h4.6M347.5 64.2v4.6"/><path d="M367.7 93.0h4.6M370.0 90.7v4.6"/><path d="M367.7 96.6h4.6M370.0 94.3v4.6"/><path d="M294.6 86.4h4.6M296.9 84.1v4.6"/><path d="M302.0 84.5h4.6M304.3 82.2v4.6"/><path d="M637.0 123.9h4.6M639.3 121.6v4.6"/><path d="M599.1 104.0h4.6M601.4 101.7v4.6"/><path d="M599.1 107.0h4.6M601.4 104.7v4.6"/><path d="M554.9 92.3h4.6M557.2 90.0v4.6"/><path d="M525.0 105.4h4.6M527.3 103.1v4.6"/><path d="M538.1 101.0h4.6M540.4 98.7v4.6"/><path d="M533.7 120.8h4.6M536.0 118.5v4.6"/><path d="M565.9 135.4h4.6M568.2 133.1v4.6"/><path d="M592.2 107.6h4.6M594.5 105.3v4.6"/><path d="M76.3 257.0h4.6M78.6 254.7v4.6"/><path d="M140.8 260.0h4.6M143.1 257.7v4.6"/><path d="M140.8 271.3h4.6M143.1 269.0v4.6"/><path d="M133.7 270.0h4.6M136.0 267.7v4.6"/><path d="M105.0 284.4h4.6M107.3 282.1v4.6"/><path d="M117.5 282.0h4.6M119.8 279.7v4.6"/><path d="M178.4 263.8h4.6M180.7 261.5v4.6"/><path d="M407.0 291.6h4.6M409.3 289.3v4.6"/><path d="M369.7 271.0h4.6M372.0 268.7v4.6"/><path d="M369.7 276.0h4.6M372.0 273.7v4.6"/></g>
<rect x="22.5" y="5.5" width="196.0" height="158.0" fill="none" stroke="#666" stroke-width="1"/>
<text x="22.5" y="171.6" font-size="7.2" text-anchor="middle" fill="#222" stroke="#222" stroke-width="0.2">0</text>
<line x1="47.0" y1="163.5" x2="47.0" y2="161.9" stroke="#666" stroke-width="1"/>
<line x1="71.5" y1="163.5" x2="71.5" y2="161.0" stroke="#666" stroke-width="1"/>
<text x="71.5" y="171.6" font-size="7.2" text-anchor="middle" fill="#222" stroke="#222" stroke-width="0.2">5</text>
<line x1="96.0" y1="163.5" x2="96.0" y2="161.9" stroke="#666" stroke-width="1"/>
<line x1="120.5" y1="163.5" x2="120.5" y2="161.0" stroke="#666" stroke-width="1"/>
<text x="120.5" y="171.6" font-size="7.2" text-anchor="middle" fill="#222" stroke="#222" stroke-width="0.2">10</text>
<line x1="145.0" y1="163.5" x2="145.0" y2="161.9" stroke="#666" stroke-width="1"/>
<line x1="169.5" y1="163.5" x2="169.5" y2="161.0" stroke="#666" stroke-width="1"/>
<text x="169.5" y="171.6" font-size="7.2" text-anchor="middle" fill="#222" stroke="#222" stroke-width="0.2">15</text>
<line x1="194.0" y1="163.5" x2="194.0" y2="161.9" stroke="#666" stroke-width="1"/>
<text x="218.5" y="171.6" font-size="7.2" text-anchor="middle" fill="#222" stroke="#222" stroke-width="0.2">20</text>
<line x1="22.5" y1="150.3" x2="24.1" y2="150.3" stroke="#666" stroke-width="1"/>
<line x1="22.5" y1="137.2" x2="25.0" y2="137.2" stroke="#666" stroke-width="1"/>
<text x="19.3" y="139.5" font-size="7.1" text-anchor="end" fill="#222" stroke="#222" stroke-width="0.2">35</text>
<line x1="22.5" y1="124.0" x2="24.1" y2="124.0" stroke="#666" stroke-width="1"/>
<line x1="22.5" y1="110.8" x2="25.0" y2="110.8" stroke="#666" stroke-width="1"/>
<text x="19.3" y="113.1" font-size="7.1" text-anchor="end" fill="#222" stroke="#222" stroke-width="0.2">40</text>
<line x1="22.5" y1="97.7" x2="24.1" y2="97.7" stroke="#666" stroke-width="1"/>
<line x1="22.5" y1="84.5" x2="25.0" y2="84.5" stroke="#666" stroke-width="1"/>
<text x="19.3" y="86.8" font-size="7.1" text-anchor="end" fill="#222" stroke="#222" stroke-width="0.2">45</text>
<line x1="22.5" y1="71.3" x2="24.1" y2="71.3" stroke="#666" stroke-width="1"/>
<line x1="22.5" y1="58.2" x2="25.0" y2="58.2" stroke="#666" stroke-width="1"/>
<text x="19.3" y="60.5" font-size="7.1" text-anchor="end" fill="#222" stroke="#222" stroke-width="0.2">50</text>
<line x1="22.5" y1="45.0" x2="24.1" y2="45.0" stroke="#666" stroke-width="1"/>
<line x1="22.5" y1="31.8" x2="25.0" y2="31.8" stroke="#666" stroke-width="1"/>
<text x="19.3" y="34.1" font-size="7.1" text-anchor="end" fill="#222" stroke="#222" stroke-width="0.2">55</text>
<line x1="22.5" y1="18.7" x2="24.1" y2="18.7" stroke="#666" stroke-width="1"/>
<text x="19.3" y="7.8" font-size="7.1" text-anchor="end" fill="#222" stroke="#222" stroke-width="0.2">60</text>
<text x="120.5" y="184.4" font-size="8.4" text-anchor="middle" fill="#1a1a1a" stroke="#1a1a1a" stroke-width="0.15">MgO (wt.%)</text>
<text transform="translate(7.1,84.8) rotate(-90)" font-size="8.4" text-anchor="middle" fill="#222">SiO<tspan font-size="5.5" dy="1.8">2</tspan><tspan dy="-1.8"> (wt.%)</tspan></text>
<text x="25.5" y="16.9" font-size="9.4" letter-spacing="0.25" font-weight="bold" fill="#222">(a)</text>
<rect x="253.0" y="5.5" width="196.5" height="158.6" fill="none" stroke="#666" stroke-width="1"/>
<text x="253.0" y="172.2" font-size="7.2" text-anchor="middle" fill="#222" stroke="#222" stroke-width="0.2">0</text>
<line x1="277.6" y1="164.1" x2="277.6" y2="162.5" stroke="#666" stroke-width="1"/>
<line x1="302.1" y1="164.1" x2="302.1" y2="161.6" stroke="#666" stroke-width="1"/>
<text x="302.1" y="172.2" font-size="7.2" text-anchor="middle" fill="#222" stroke="#222" stroke-width="0.2">5</text>
<line x1="326.7" y1="164.1" x2="326.7" y2="162.5" stroke="#666" stroke-width="1"/>
<line x1="351.2" y1="164.1" x2="351.2" y2="161.6" stroke="#666" stroke-width="1"/>
<text x="351.2" y="172.2" font-size="7.2" text-anchor="middle" fill="#222" stroke="#222" stroke-width="0.2">10</text>
<line x1="375.8" y1="164.1" x2="375.8" y2="162.5" stroke="#666" stroke-width="1"/>
<line x1="400.4" y1="164.1" x2="400.4" y2="161.6" stroke="#666" stroke-width="1"/>
<text x="400.4" y="172.2" font-size="7.2" text-anchor="middle" fill="#222" stroke="#222" stroke-width="0.2">15</text>
<line x1="424.9" y1="164.1" x2="424.9" y2="162.5" stroke="#666" stroke-width="1"/>
<text x="449.5" y="172.2" font-size="7.2" text-anchor="middle" fill="#222" stroke="#222" stroke-width="0.2">20</text>
<line x1="253.0" y1="144.3" x2="254.6" y2="144.3" stroke="#666" stroke-width="1"/>
<line x1="253.0" y1="124.4" x2="255.5" y2="124.4" stroke="#666" stroke-width="1"/>
<text x="249.8" y="126.7" font-size="7.1" text-anchor="end" fill="#222" stroke="#222" stroke-width="0.2">5</text>
<line x1="253.0" y1="104.6" x2="254.6" y2="104.6" stroke="#666" stroke-width="1"/>
<line x1="253.0" y1="84.8" x2="255.5" y2="84.8" stroke="#666" stroke-width="1"/>
<text x="249.8" y="87.1" font-size="7.1" text-anchor="end" fill="#222" stroke="#222" stroke-width="0.2">10</text>
<line x1="253.0" y1="65.0" x2="254.6" y2="65.0" stroke="#666" stroke-width="1"/>
<line x1="253.0" y1="45.1" x2="255.5" y2="45.1" stroke="#666" stroke-width="1"/>
<text x="249.8" y="47.4" font-size="7.1" text-anchor="end" fill="#222" stroke="#222" stroke-width="0.2">15</text>
<line x1="253.0" y1="25.3" x2="254.6" y2="25.3" stroke="#666" stroke-width="1"/>
<text x="249.8" y="7.8" font-size="7.1" text-anchor="end" fill="#222" stroke="#222" stroke-width="0.2">20</text>
<text x="351.2" y="185.0" font-size="8.4" text-anchor="middle" fill="#1a1a1a" stroke="#1a1a1a" stroke-width="0.15">MgO (wt.%)</text>
<text transform="translate(237.1,85.1) rotate(-90)" font-size="8.4" text-anchor="middle" fill="#222">Al<tspan font-size="5.5" dy="1.8">2</tspan><tspan dy="-1.8">O</tspan><tspan font-size="5.5" dy="1.8">3</tspan><tspan dy="-1.8"> (wt.%)</tspan></text>
<text x="256.2" y="16.9" font-size="9.4" letter-spacing="0.25" font-weight="bold" fill="#222">(b)</text>
<rect x="483.6" y="3.7" width="196.9" height="158.4" fill="none" stroke="#666" stroke-width="1"/>
<text x="483.6" y="170.2" font-size="7.2" text-anchor="middle" fill="#222" stroke="#222" stroke-width="0.2">0</text>
<line x1="508.2" y1="162.1" x2="508.2" y2="160.5" stroke="#666" stroke-width="1"/>
<line x1="532.8" y1="162.1" x2="532.8" y2="159.6" stroke="#666" stroke-width="1"/>
<text x="532.8" y="170.2" font-size="7.2" text-anchor="middle" fill="#222" stroke="#222" stroke-width="0.2">5</text>
<line x1="557.4" y1="162.1" x2="557.4" y2="160.5" stroke="#666" stroke-width="1"/>
<line x1="582.0" y1="162.1" x2="582.0" y2="159.6" stroke="#666" stroke-width="1"/>
<text x="582.0" y="170.2" font-size="7.2" text-anchor="middle" fill="#222" stroke="#222" stroke-width="0.2">10</text>
<line x1="606.7" y1="162.1" x2="606.7" y2="160.5" stroke="#666" stroke-width="1"/>
<line x1="631.3" y1="162.1" x2="631.3" y2="159.6" stroke="#666" stroke-width="1"/>
<text x="631.3" y="170.2" font-size="7.2" text-anchor="middle" fill="#222" stroke="#222" stroke-width="0.2">15</text>
<line x1="655.9" y1="162.1" x2="655.9" y2="160.5" stroke="#666" stroke-width="1"/>
<text x="680.5" y="170.2" font-size="7.2" text-anchor="middle" fill="#222" stroke="#222" stroke-width="0.2">20</text>
<line x1="483.6" y1="150.8" x2="485.2" y2="150.8" stroke="#666" stroke-width="1"/>
<line x1="483.6" y1="139.5" x2="486.1" y2="139.5" stroke="#666" stroke-width="1"/>
<text x="480.4" y="141.8" font-size="7.1" text-anchor="end" fill="#222" stroke="#222" stroke-width="0.2">5</text>
<line x1="483.6" y1="128.2" x2="485.2" y2="128.2" stroke="#666" stroke-width="1"/>
<line x1="483.6" y1="116.8" x2="486.1" y2="116.8" stroke="#666" stroke-width="1"/>
<text x="480.4" y="119.1" font-size="7.1" text-anchor="end" fill="#222" stroke="#222" stroke-width="0.2">10</text>
<line x1="483.6" y1="105.5" x2="485.2" y2="105.5" stroke="#666" stroke-width="1"/>
<line x1="483.6" y1="94.2" x2="486.1" y2="94.2" stroke="#666" stroke-width="1"/>
<text x="480.4" y="96.5" font-size="7.1" text-anchor="end" fill="#222" stroke="#222" stroke-width="0.2">15</text>
<line x1="483.6" y1="82.9" x2="485.2" y2="82.9" stroke="#666" stroke-width="1"/>
<line x1="483.6" y1="71.6" x2="486.1" y2="71.6" stroke="#666" stroke-width="1"/>
<text x="480.4" y="73.9" font-size="7.1" text-anchor="end" fill="#222" stroke="#222" stroke-width="0.2">20</text>
<line x1="483.6" y1="60.3" x2="485.2" y2="60.3" stroke="#666" stroke-width="1"/>
<line x1="483.6" y1="49.0" x2="486.1" y2="49.0" stroke="#666" stroke-width="1"/>
<text x="480.4" y="51.3" font-size="7.1" text-anchor="end" fill="#222" stroke="#222" stroke-width="0.2">25</text>
<line x1="483.6" y1="37.6" x2="485.2" y2="37.6" stroke="#666" stroke-width="1"/>
<line x1="483.6" y1="26.3" x2="486.1" y2="26.3" stroke="#666" stroke-width="1"/>
<text x="480.4" y="28.6" font-size="7.1" text-anchor="end" fill="#222" stroke="#222" stroke-width="0.2">30</text>
<line x1="483.6" y1="15.0" x2="485.2" y2="15.0" stroke="#666" stroke-width="1"/>
<text x="480.4" y="6.0" font-size="7.1" text-anchor="end" fill="#222" stroke="#222" stroke-width="0.2">35</text>
<text x="582.0" y="183.0" font-size="8.4" text-anchor="middle" fill="#1a1a1a" stroke="#1a1a1a" stroke-width="0.15">MgO (wt.%)</text>
<text transform="translate(467.3,83.2) rotate(-90)" font-size="8.4" text-anchor="middle" fill="#222">TiO<tspan font-size="5.5" dy="1.8">2</tspan><tspan dy="-1.8"> (wt.%)</tspan></text>
<text x="486.9" y="16.7" font-size="9.4" letter-spacing="0.25" font-weight="bold" fill="#222">(c)</text>
<rect x="25.5" y="195.5" width="196.9" height="157.9" fill="none" stroke="#666" stroke-width="1"/>
<text x="25.5" y="361.5" font-size="7.2" text-anchor="middle" fill="#222" stroke="#222" stroke-width="0.2">0</text>
<line x1="50.1" y1="353.4" x2="50.1" y2="351.8" stroke="#666" stroke-width="1"/>
<line x1="74.7" y1="353.4" x2="74.7" y2="350.9" stroke="#666" stroke-width="1"/>
<text x="74.7" y="361.5" font-size="7.2" text-anchor="middle" fill="#222" stroke="#222" stroke-width="0.2">5</text>
<line x1="99.3" y1="353.4" x2="99.3" y2="351.8" stroke="#666" stroke-width="1"/>
<line x1="124.0" y1="353.4" x2="124.0" y2="350.9" stroke="#666" stroke-width="1"/>
<text x="124.0" y="361.5" font-size="7.2" text-anchor="middle" fill="#222" stroke="#222" stroke-width="0.2">10</text>
<line x1="148.6" y1="353.4" x2="148.6" y2="351.8" stroke="#666" stroke-width="1"/>
<line x1="173.2" y1="353.4" x2="173.2" y2="350.9" stroke="#666" stroke-width="1"/>
<text x="173.2" y="361.5" font-size="7.2" text-anchor="middle" fill="#222" stroke="#222" stroke-width="0.2">15</text>
<line x1="197.8" y1="353.4" x2="197.8" y2="351.8" stroke="#666" stroke-width="1"/>
<text x="222.4" y="361.5" font-size="7.2" text-anchor="middle" fill="#222" stroke="#222" stroke-width="0.2">20</text>
<line x1="25.5" y1="342.1" x2="27.1" y2="342.1" stroke="#666" stroke-width="1"/>
<line x1="25.5" y1="330.8" x2="28.0" y2="330.8" stroke="#666" stroke-width="1"/>
<text x="22.3" y="333.1" font-size="7.1" text-anchor="end" fill="#222" stroke="#222" stroke-width="0.2">5</text>
<line x1="25.5" y1="319.6" x2="27.1" y2="319.6" stroke="#666" stroke-width="1"/>
<line x1="25.5" y1="308.3" x2="28.0" y2="308.3" stroke="#666" stroke-width="1"/>
<text x="22.3" y="310.6" font-size="7.1" text-anchor="end" fill="#222" stroke="#222" stroke-width="0.2">10</text>
<line x1="25.5" y1="297.0" x2="27.1" y2="297.0" stroke="#666" stroke-width="1"/>
<line x1="25.5" y1="285.7" x2="28.0" y2="285.7" stroke="#666" stroke-width="1"/>
<text x="22.3" y="288.0" font-size="7.1" text-anchor="end" fill="#222" stroke="#222" stroke-width="0.2">15</text>
<line x1="25.5" y1="274.4" x2="27.1" y2="274.4" stroke="#666" stroke-width="1"/>
<line x1="25.5" y1="263.2" x2="28.0" y2="263.2" stroke="#666" stroke-width="1"/>
<text x="22.3" y="265.5" font-size="7.1" text-anchor="end" fill="#222" stroke="#222" stroke-width="0.2">20</text>
<line x1="25.5" y1="251.9" x2="27.1" y2="251.9" stroke="#666" stroke-width="1"/>
<line x1="25.5" y1="240.6" x2="28.0" y2="240.6" stroke="#666" stroke-width="1"/>
<text x="22.3" y="242.9" font-size="7.1" text-anchor="end" fill="#222" stroke="#222" stroke-width="0.2">25</text>
<line x1="25.5" y1="229.3" x2="27.1" y2="229.3" stroke="#666" stroke-width="1"/>
<line x1="25.5" y1="218.1" x2="28.0" y2="218.1" stroke="#666" stroke-width="1"/>
<text x="22.3" y="220.4" font-size="7.1" text-anchor="end" fill="#222" stroke="#222" stroke-width="0.2">30</text>
<line x1="25.5" y1="206.8" x2="27.1" y2="206.8" stroke="#666" stroke-width="1"/>
<text x="22.3" y="197.8" font-size="7.1" text-anchor="end" fill="#222" stroke="#222" stroke-width="0.2">35</text>
<text x="124.0" y="374.3" font-size="8.4" text-anchor="middle" fill="#1a1a1a" stroke="#1a1a1a" stroke-width="0.15">MgO (wt.%)</text>
<text transform="translate(10.8,274.8) rotate(-90)" font-size="8.4" text-anchor="middle" fill="#222">FeO (wt.%)</text>
<text x="30.5" y="208.1" font-size="9.4" letter-spacing="0.25" font-weight="bold" fill="#222">(d)</text>
<rect x="255.7" y="197.0" width="194.8" height="156.6" fill="none" stroke="#666" stroke-width="1"/>
<text x="255.7" y="361.7" font-size="7.2" text-anchor="middle" fill="#222" stroke="#222" stroke-width="0.2">0</text>
<line x1="280.1" y1="353.6" x2="280.1" y2="352.0" stroke="#666" stroke-width="1"/>
<line x1="304.4" y1="353.6" x2="304.4" y2="351.1" stroke="#666" stroke-width="1"/>
<text x="304.4" y="361.7" font-size="7.2" text-anchor="middle" fill="#222" stroke="#222" stroke-width="0.2">5</text>
<line x1="328.8" y1="353.6" x2="328.8" y2="352.0" stroke="#666" stroke-width="1"/>
<line x1="353.1" y1="353.6" x2="353.1" y2="351.1" stroke="#666" stroke-width="1"/>
<text x="353.1" y="361.7" font-size="7.2" text-anchor="middle" fill="#222" stroke="#222" stroke-width="0.2">10</text>
<line x1="377.4" y1="353.6" x2="377.4" y2="352.0" stroke="#666" stroke-width="1"/>
<line x1="401.8" y1="353.6" x2="401.8" y2="351.1" stroke="#666" stroke-width="1"/>
<text x="401.8" y="361.7" font-size="7.2" text-anchor="middle" fill="#222" stroke="#222" stroke-width="0.2">15</text>
<line x1="426.1" y1="353.6" x2="426.1" y2="352.0" stroke="#666" stroke-width="1"/>
<text x="450.5" y="361.7" font-size="7.2" text-anchor="middle" fill="#222" stroke="#222" stroke-width="0.2">20</text>
<line x1="255.7" y1="334.0" x2="257.3" y2="334.0" stroke="#666" stroke-width="1"/>
<line x1="255.7" y1="314.5" x2="258.2" y2="314.5" stroke="#666" stroke-width="1"/>
<text x="252.5" y="316.8" font-size="7.1" text-anchor="end" fill="#222" stroke="#222" stroke-width="0.2">5</text>
<line x1="255.7" y1="294.9" x2="257.3" y2="294.9" stroke="#666" stroke-width="1"/>
<line x1="255.7" y1="275.3" x2="258.2" y2="275.3" stroke="#666" stroke-width="1"/>
<text x="252.5" y="277.6" font-size="7.1" text-anchor="end" fill="#222" stroke="#222" stroke-width="0.2">10</text>
<line x1="255.7" y1="255.7" x2="257.3" y2="255.7" stroke="#666" stroke-width="1"/>
<line x1="255.7" y1="236.2" x2="258.2" y2="236.2" stroke="#666" stroke-width="1"/>
<text x="252.5" y="238.5" font-size="7.1" text-anchor="end" fill="#222" stroke="#222" stroke-width="0.2">15</text>
<line x1="255.7" y1="216.6" x2="257.3" y2="216.6" stroke="#666" stroke-width="1"/>
<text x="252.5" y="199.3" font-size="7.1" text-anchor="end" fill="#222" stroke="#222" stroke-width="0.2">20</text>
<text x="353.1" y="374.5" font-size="8.4" text-anchor="middle" fill="#1a1a1a" stroke="#1a1a1a" stroke-width="0.15">MgO (wt.%)</text>
<text transform="translate(241.2,275.6) rotate(-90)" font-size="8.4" text-anchor="middle" fill="#222">CaO (wt.%)</text>
<text x="258.9" y="208.1" font-size="9.4" letter-spacing="0.25" font-weight="bold" fill="#222">(e)</text>
<text x="491.4" y="210.3" font-size="8.9" font-weight="bold" font-style="italic" fill="#111">Natural samples</text>
<text x="513.5" y="222.9" font-size="8.95" fill="#1a1a1a" stroke="#1a1a1a" stroke-width="0.12">Apollo 11 High-Ti mare basalts</text>
<path d="M499.0 219.8h3.6M500.8 218.0v3.6" stroke="#f2a292" stroke-width="1.3"/>
<text x="513.5" y="236.1" font-size="8.95" fill="#1a1a1a" stroke="#1a1a1a" stroke-width="0.12">Apollo 17 High-Ti mare basalts</text>
<path d="M499.0 233.0h3.6M500.8 231.2v3.6" stroke="#7eb0de" stroke-width="1.3"/>
<text x="491.4" y="249.5" font-size="8.9" font-weight="bold" font-style="italic" fill="#111">HP-HT Experimental melts</text>
<text x="513.5" y="262.6" font-size="8.95" fill="#1a1a1a" stroke="#1a1a1a" stroke-width="0.12">HTP1</text>
<path d="M500.8 257.7L502.6 259.5L500.8 261.3L499.0 259.5Z" fill="#96e0a2" stroke="#225f30" stroke-width="0.9"/>
<text x="513.5" y="275.5" font-size="8.95" fill="#1a1a1a" stroke="#1a1a1a" stroke-width="0.12">HTP2</text>
<circle cx="500.8" cy="272.4" r="1.35" fill="#96e0a2" stroke="#225f30" stroke-width="1.0"/>
<text x="513.5" y="288.3" font-size="8.95" fill="#1a1a1a" stroke="#1a1a1a" stroke-width="0.12">HTP3</text>
<rect x="499.6" y="283.9" width="2.5" height="2.5" fill="#96e0a2" stroke="#225f30" stroke-width="0.9"/>
<text x="491.4" y="301.7" font-size="8.9" font-weight="bold" font-style="italic" fill="#111">Monte-Carlo simulation</text>
<text x="513.5" y="314.7" font-size="8.95" fill="#1a1a1a" stroke="#1a1a1a" stroke-width="0.12">Unsuccessful simulation</text>
<circle cx="500.8" cy="311.6" r="1.8" fill="#c8c8c8"/>
<text x="513.5" y="327.8" font-size="8.95" fill="#1a1a1a" stroke="#1a1a1a" stroke-width="0.12">Successful simulation</text>
<circle cx="500.8" cy="324.7" r="1.8" fill="#f0d498"/>
</svg></body></html>
